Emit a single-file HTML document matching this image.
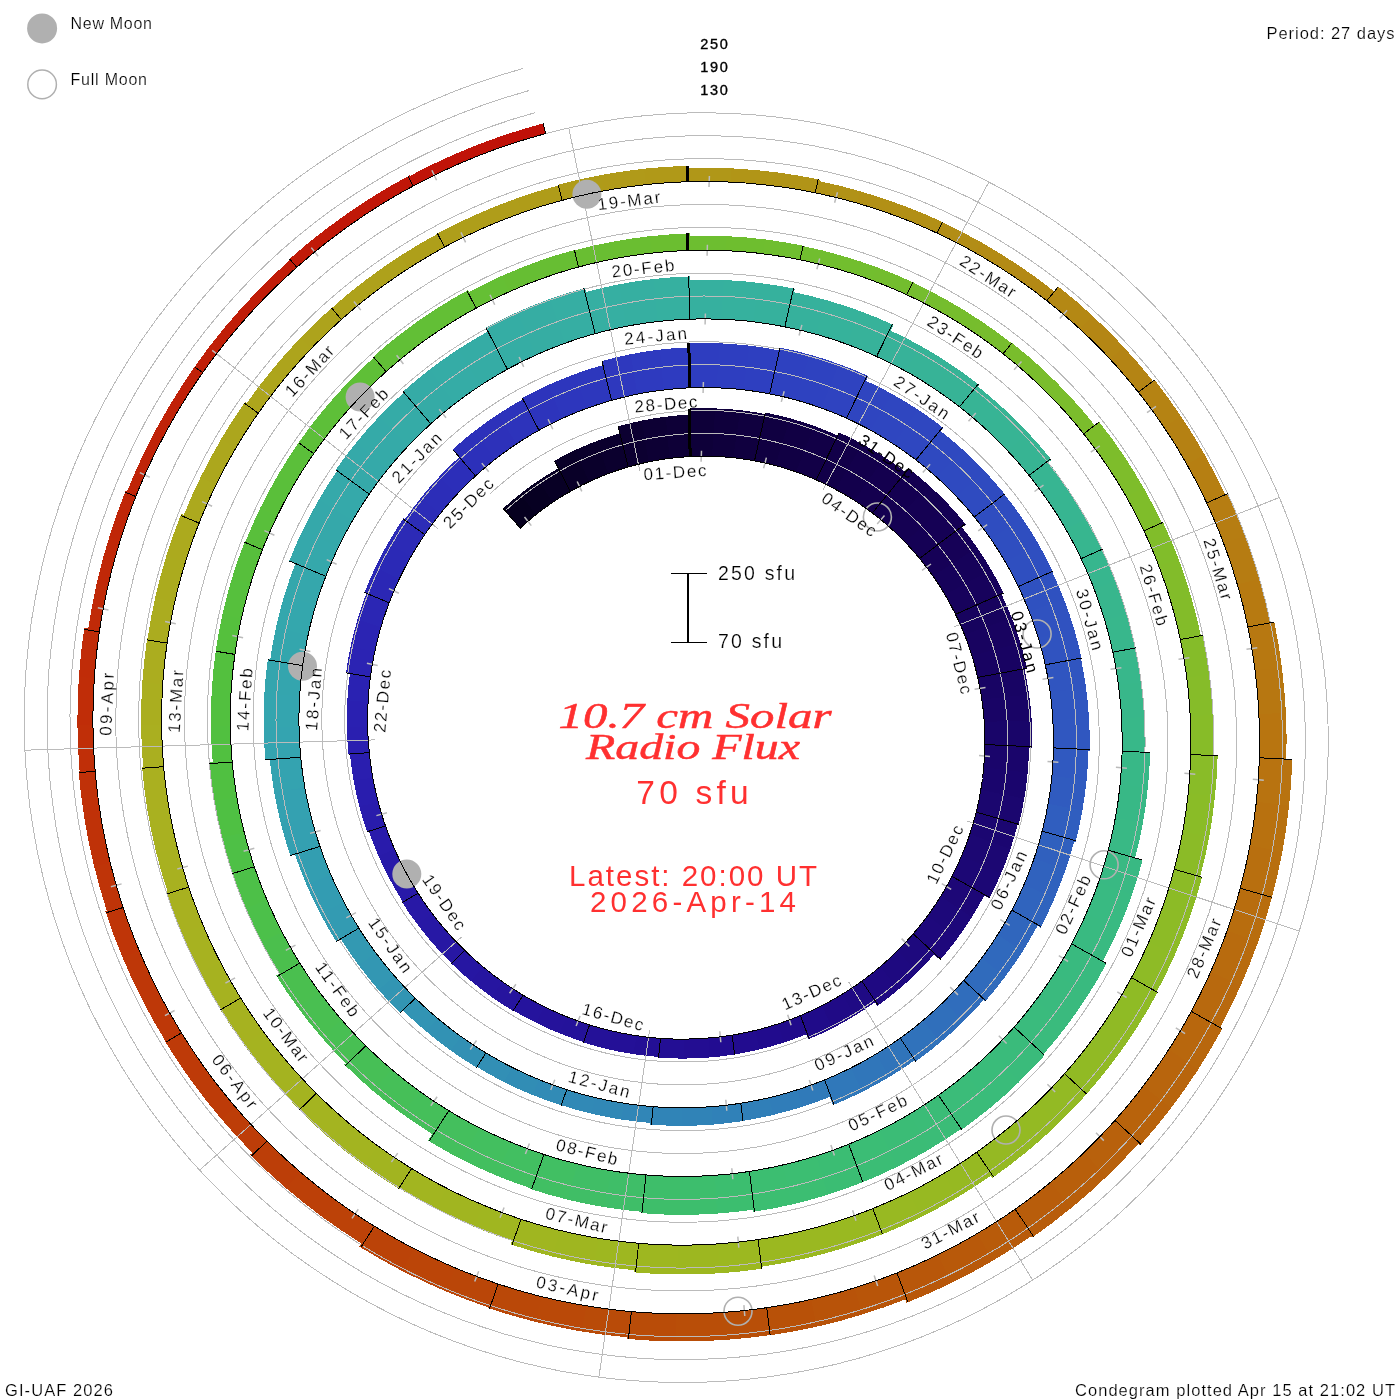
<!DOCTYPE html>
<html lang="en">
<head>
<meta charset="utf-8">
<title>10.7 cm Solar Radio Flux Condegram</title>
<style>
html,body{margin:0;padding:0;background:#fff;}
body{width:1400px;height:1400px;overflow:hidden;}
svg{display:block;}
</style>
</head>
<body>
<svg width="1400" height="1400" viewBox="0 0 1400 1400" role="img" aria-label="10.7 cm Solar Radio Flux condegram">
<rect width="1400" height="1400" fill="#fff"/>
<g shape-rendering="crispEdges" stroke="none">
<polygon fill="#06001f" points="520.2,528.2 528.1,521 536.4,514.2 521.2,493.2 512,500.6 503.2,508.4"/>
<polygon fill="#070022" points="535.9,514.7 544.4,508.2 553.2,502 539.6,479.8 529.9,486.6 520.5,493.7"/>
<polygon fill="#080025" points="552.6,502.4 561.7,496.5 571,491.1 559.1,467.9 548.9,473.9 538.9,480.3"/>
<polygon fill="#090028" points="570.3,491.4 579.8,486.3 589.6,481.5 576.3,449.6 565.2,454.9 554.5,460.7"/>
<polygon fill="#0a002b" points="588.9,481.8 598.8,477.4 608.9,473.4 598.1,440.5 586.7,445 575.5,449.9"/>
<polygon fill="#0b002e" points="608.2,473.7 618.5,470 628.9,466.8 620.7,433.2 608.9,436.8 597.3,440.8"/>
<polygon fill="#0c0031" points="628.2,467 638.7,464.2 649.4,461.8 642.6,420.4 630.3,423.1 618.1,426.3"/>
<polygon fill="#0d0034" points="648.6,461.9 659.4,459.9 670.3,458.3 666.7,416.6 654.2,418.3 641.7,420.6"/>
<polygon fill="#0e0037" points="669.5,458.4 680.4,457.2 691.4,456.5 691.1,414.6 678.4,415.4 665.8,416.7"/>
<polygon fill="#0e0039" points="690.7,456.5 701.7,456.2 712.7,456.3 716.1,408.4 703.1,408.2 690.2,408.5"/>
<polygon fill="#0f003c" points="712,456.3 723,456.8 734,457.8 741.1,410.3 728.2,409.1 715.2,408.4"/>
<polygon fill="#10003f" points="733.3,457.7 744.3,459.1 755.2,460.9 766,414.2 753.1,411.9 740.2,410.2"/>
<polygon fill="#100041" points="754.5,460.8 765.4,463 776.2,465.7 790.9,418.6 778.2,415.3 765.4,412.6"/>
<polygon fill="#110044" points="775.4,465.5 786.2,468.6 796.8,472.2 815.1,426.3 802.7,422.1 790.1,418.3"/>
<polygon fill="#120047" points="796,471.9 806.5,475.8 816.9,480.2 838.7,435.9 826.6,430.7 814.3,426"/>
<polygon fill="#120049" points="816.1,479.9 826.3,484.6 836.3,489.8 863.2,444.5 851.4,438.3 839.3,432.5"/>
<polygon fill="#13004c" points="835.6,489.4 845.4,494.9 855,500.9 885.4,457.8 874,450.7 862.4,444"/>
<polygon fill="#14004f" points="854.4,500.5 863.7,506.8 872.9,513.4 906.5,472.8 895.7,464.8 884.6,457.3"/>
<polygon fill="#140051" points="872.3,513 881.1,520 889.8,527.4 929.7,486 919.4,477.1 908.8,468.5"/>
<polygon fill="#150153" points="889.2,526.9 897.5,534.6 905.5,542.7 948.6,504.5 939,494.8 929,485.4"/>
<polygon fill="#150155" points="905,542.1 912.7,550.5 920.1,559.1 966,524.5 957.2,514 947.9,503.8"/>
<polygon fill="#160157" points="919.6,558.5 926.7,567.5 933.4,576.8 977.7,548.4 969.8,537.4 961.5,526.7"/>
<polygon fill="#16025a" points="933,576.1 939.4,585.6 945.4,595.4 991.7,570.6 984.7,559 977.2,547.6"/>
<polygon fill="#17025c" points="945,594.7 950.6,604.8 955.9,615 1004,593.8 997.9,581.7 991.3,569.8"/>
<polygon fill="#17035e" points="955.5,614.3 960.4,624.8 964.8,635.4 1012.2,618.8 1007.1,606.3 1001.4,594"/>
<polygon fill="#180360" points="964.5,634.7 968.6,645.5 972.2,656.5 1020.7,643.7 1016.5,630.7 1011.9,618"/>
<polygon fill="#180362" points="972,655.8 975.2,666.9 977.9,678.2 1027.3,669.1 1024.1,655.9 1020.4,642.8"/>
<polygon fill="#180464" points="977.7,677.4 980.1,688.8 982,700.3 1029.2,695.4 1027.1,682 1024.4,668.7"/>
<polygon fill="#190466" points="981.8,699.5 983.3,711.1 984.3,722.8 1031.8,721.5 1030.7,707.9 1029.1,694.5"/>
<polygon fill="#190569" points="984.2,721.9 984.8,733.6 984.9,745.4 1032.3,747.8 1032.3,734.2 1031.7,720.5"/>
<polygon fill="#1a056b" points="984.9,744.5 984.5,756.3 983.7,768 1027.6,773.7 1028.6,760.2 1029.1,746.7"/>
<polygon fill="#1a056d" points="983.7,767.2 982.5,778.9 980.7,790.6 1024.1,799.6 1026.2,786.2 1027.7,772.8"/>
<polygon fill="#1b066f" points="980.9,789.8 978.7,801.4 976,812.9 1018.5,825.3 1021.7,812 1024.2,798.7"/>
<polygon fill="#1b0671" points="976.2,812.1 973.1,823.5 969.6,834.8 1010.1,850.1 1014.2,837.2 1017.8,824.1"/>
<polygon fill="#1c0773" points="969.8,834.1 965.9,845.2 961.4,856.3 1000.6,874.7 1005.8,862.1 1010.4,849.2"/>
<polygon fill="#1c0775" points="961.7,855.5 956.9,866.4 951.6,877.1 989.3,898.5 995.4,886.3 1001,873.8"/>
<polygon fill="#1d0777" points="952,876.4 946.3,886.9 940.2,897.1 971.3,918.1 978.2,906.6 984.7,894.8"/>
<polygon fill="#1d087a" points="940.6,896.4 934.1,906.5 927.2,916.3 956.5,939.6 964.4,928.6 971.7,917.3"/>
<polygon fill="#1e087c" points="927.7,915.6 920.4,925.2 912.7,934.4 940.2,960 948.8,949.6 957.1,938.9"/>
<polygon fill="#1e097e" points="913.2,933.8 905.2,942.8 896.8,951.4 916.7,973 925.9,963.5 934.8,953.7"/>
<polygon fill="#1e0980" points="897.4,950.8 888.7,959.2 879.6,967.2 897.7,990.2 907.7,981.5 917.3,972.3"/>
<polygon fill="#1f0982" points="880.2,966.7 870.9,974.3 861.2,981.6 877.5,1006 888.1,998 898.4,989.6"/>
<polygon fill="#1f0a84" points="861.9,981.1 851.9,988.1 841.6,994.6 853.8,1016.3 864.9,1009.3 875.8,1001.8"/>
<polygon fill="#200a86" points="842.3,994.2 831.8,1000.3 821.1,1006.1 831.5,1028.7 843.2,1022.5 854.6,1015.8"/>
<polygon fill="#200b89" points="821.8,1005.7 810.8,1011 799.6,1015.9 808.3,1039.3 820.5,1034 832.4,1028.2"/>
<polygon fill="#210b8b" points="800.4,1015.6 789,1020.1 777.4,1024.1 782.8,1042.9 795.1,1038.6 807.3,1033.9"/>
<polygon fill="#210b8d" points="778.2,1023.9 766.5,1027.4 754.6,1030.6 758.5,1049.7 771.1,1046.4 783.7,1042.6"/>
<polygon fill="#220c8f" points="755.4,1030.4 743.4,1033.1 731.3,1035.3 733.7,1054.6 746.6,1052.3 759.4,1049.5"/>
<polygon fill="#220c91" points="732.1,1035.1 719.9,1036.9 707.6,1038.1 708.5,1057.6 721.6,1056.3 734.6,1054.5"/>
<polygon fill="#230d92" points="708.4,1038 696.1,1038.8 683.7,1039.1 683,1058.6 696.2,1058.3 709.4,1057.5"/>
<polygon fill="#230e94" points="684.5,1039.1 672.1,1039 659.7,1038.3 657.6,1057.7 670.8,1058.4 684,1058.6"/>
<polygon fill="#230f95" points="660.5,1038.4 648.1,1037.2 635.8,1035.6 632.3,1054 645.4,1055.7 658.6,1057"/>
<polygon fill="#241097" points="636.6,1035.7 624.3,1033.6 612.1,1031 607.2,1049.1 620.2,1051.9 633.2,1054.1"/>
<polygon fill="#241198" points="612.9,1031.2 600.8,1028.2 588.7,1024.6 582.5,1042.2 595.2,1046 608.1,1049.3"/>
<polygon fill="#24129a" points="589.6,1024.9 577.7,1020.9 565.9,1016.4 558.6,1032.9 571,1037.7 583.6,1042"/>
<polygon fill="#25129b" points="566.7,1016.7 555.1,1011.8 543.7,1006.4 535.1,1022.3 547.2,1028.1 559.4,1033.3"/>
<polygon fill="#25139d" points="544.5,1006.8 533.3,1001 522.4,994.7 512.5,1009.9 524.1,1016.6 535.9,1022.7"/>
<polygon fill="#26149e" points="523.1,995.1 512.4,988.5 501.9,981.3 490.5,996.2 501.6,1003.8 513,1010.9"/>
<polygon fill="#2615a0" points="502.6,981.8 492.4,974.3 482.5,966.4 470,980.3 480.5,988.7 491.3,996.7"/>
<polygon fill="#2616a2" points="483.1,966.9 473.5,958.6 464.2,949.9 450.7,962.8 460.5,972.1 470.7,980.9"/>
<polygon fill="#2717a3" points="464.8,950.5 455.9,941.4 447.2,932 433,943.7 442.1,953.7 451.6,963.3"/>
<polygon fill="#2718a5" points="447.8,932.7 439.5,922.9 431.7,912.8 416.6,923.3 424.9,934 433.6,944.4"/>
<polygon fill="#2818a6" points="432.2,913.5 424.7,903.1 417.6,892.4 401.7,901.7 409.2,913.1 417.1,924.1"/>
<polygon fill="#2819a8" points="418.1,893.2 411.4,882.2 405.1,870.9 389.4,878.6 396,890.5 403,902.1"/>
<polygon fill="#281aa9" points="405.5,871.7 399.7,860.2 394.3,848.5 378,854.9 383.7,867.3 389.8,879.4"/>
<polygon fill="#291bab" points="394.7,849.3 389.7,837.3 385.3,825.2 368.5,830.3 373.2,843.1 378.4,855.8"/>
<polygon fill="#291cac" points="385.5,826 381.5,813.7 378,801.2 359.1,805.5 362.8,818.7 367,831.8"/>
<polygon fill="#291dae" points="378.2,802.1 375.2,789.4 372.6,776.7 353.4,779.4 356.1,793 359.3,806.4"/>
<polygon fill="#2a1eaf" points="372.8,777.6 370.7,764.7 369.2,751.7 349.8,753 351.4,766.7 353.6,780.4"/>
<polygon fill="#2a1fb0" points="369.3,752.6 368.2,739.6 367.7,726.5 346.9,726.3 347.4,740.2 348.5,754.1"/>
<polygon fill="#2a20b1" points="367.7,727.4 367.6,714.3 368.1,701.2 347.4,699.4 346.9,713.3 346.9,727.3"/>
<polygon fill="#2a22b2" points="368.1,702.1 369,689 370.5,676 350,672.5 348.4,686.4 347.3,700.3"/>
<polygon fill="#2b23b3" points="370.4,676.9 372.4,663.9 374.9,650.9 350.9,644.9 348.2,658.8 346,672.8"/>
<polygon fill="#2b24b3" points="374.7,651.8 377.7,638.9 381.2,626.2 357.8,618.4 354,632.1 350.7,645.9"/>
<polygon fill="#2b26b4" points="381,627.1 384.9,614.5 389.5,602 366.7,592.4 361.8,605.8 357.5,619.3"/>
<polygon fill="#2b27b5" points="389.1,602.8 394.1,590.5 399.6,578.4 375.9,566.2 369.9,579.2 364.5,592.5"/>
<polygon fill="#2b29b6" points="399.2,579.3 405.1,567.4 411.5,555.7 388.8,541.6 381.9,554.2 375.4,567.1"/>
<polygon fill="#2c2ab6" points="411.1,556.5 417.9,545 425.2,533.9 403.7,518.1 395.8,530.1 388.3,542.5"/>
<polygon fill="#2c2cb7" points="424.7,534.6 432.4,523.7 440.6,513.1 421.7,496.8 412.9,508.2 404.5,519.9"/>
<polygon fill="#2c2db8" points="440.1,513.8 448.6,503.5 457.6,493.6 440,475.9 430.3,486.5 421.1,497.6"/>
<polygon fill="#2c2eb9" points="457,494.3 466.4,484.6 476.2,475.4 460,456.3 449.4,466.3 439.3,476.6"/>
<polygon fill="#2c30ba" points="475.5,476 485.6,467.1 496.1,458.6 475.5,430.3 463.9,439.6 452.7,449.4"/>
<polygon fill="#2d31ba" points="495.3,459.2 506.2,451.1 517.3,443.4 499,413.6 486.7,422 474.7,430.9"/>
<polygon fill="#2d33bb" points="516.5,443.9 528,436.7 539.7,429.9 523.8,398.7 510.8,406.2 498.1,414.2"/>
<polygon fill="#2d34bc" points="538.9,430.3 550.9,424 563.1,418.1 549.2,384.6 535.6,391.1 522.3,398.1"/>
<polygon fill="#2d36bd" points="562.3,418.5 574.8,413.1 587.5,408.1 576.1,373.6 562,379.1 548.2,385"/>
<polygon fill="#2d37bd" points="586.6,408.5 599.5,404 612.6,400.1 603.9,364.8 589.4,369.1 575.1,374"/>
<polygon fill="#2e38be" points="611.6,400.3 624.9,396.9 638.3,394 631.7,354 616.7,357.2 601.9,361"/>
<polygon fill="#2e3abf" points="637.3,394.1 650.8,391.7 664.4,389.9 661,349.5 645.8,351.5 630.7,354.2"/>
<polygon fill="#2e3bc0" points="663.5,390 677.2,388.6 690.9,387.8 690.6,347.3 675.3,348.1 660,349.6"/>
<polygon fill="#2e3dc0" points="690,387.8 703.7,387.5 717.5,387.8 720.7,343.4 705.1,343 689.5,343.3"/>
<polygon fill="#2e3ec0" points="716.6,387.7 730.4,388.5 744.2,389.8 750.7,345.8 735.2,344.3 719.6,343.3"/>
<polygon fill="#2e3fc0" points="743.2,389.7 756.9,391.6 770.6,394 780.5,350.6 765.1,347.8 749.6,345.7"/>
<polygon fill="#2e41c0" points="769.6,393.8 783.2,396.7 796.7,400.2 810.8,354.9 795.5,350.9 780.1,347.6"/>
<polygon fill="#2e42c0" points="795.8,399.9 809.1,403.9 822.3,408.4 839.9,364.4 824.9,359.2 809.8,354.6"/>
<polygon fill="#2f43c0" points="821.4,408 834.4,413 847.2,418.6 868.2,376.1 853.7,369.7 838.9,364"/>
<polygon fill="#2f45c0" points="846.4,418.2 859,424.2 871.4,430.7 892.9,394.4 879.1,387.1 864.9,380.3"/>
<polygon fill="#2f46c0" points="870.5,430.2 882.7,437.2 894.6,444.7 918.9,410.2 905.6,401.8 892,393.9"/>
<polygon fill="#2f47c0" points="893.8,444.2 905.4,452.1 916.7,460.5 943.5,428 930.9,418.5 918,409.6"/>
<polygon fill="#2f49c0" points="915.9,459.9 926.9,468.7 937.5,478 963.9,450.7 952.2,440.4 940,430.5"/>
<polygon fill="#2f4ac0" points="936.8,477.3 947.1,487 957,497.1 985.4,471.9 974.5,460.7 963.1,449.9"/>
<polygon fill="#2f4bc0" points="956.3,496.4 965.8,506.9 974.9,517.7 1005.3,494.8 995.2,482.8 984.7,471.1"/>
<polygon fill="#2f4dc0" points="974.3,517 983,528.2 991.3,539.7 1023,519.4 1013.9,506.6 1004.3,494.1"/>
<polygon fill="#2f4ec0" points="990.7,538.9 998.6,550.8 1005.9,563 1039.2,545.2 1031.1,531.7 1022.4,518.5"/>
<polygon fill="#2f4fc0" points="1005.4,562.1 1012.3,574.6 1018.7,587.4 1053.3,572.2 1046.2,558 1038.6,544.2"/>
<polygon fill="#2f51c0" points="1018.3,586.5 1024.3,599.5 1029.7,612.7 1064.5,600.5 1058.6,585.9 1052.1,571.5"/>
<polygon fill="#3052c0" points="1029.3,611.8 1034.2,625.3 1038.6,638.9 1074.3,629.5 1069.5,614.4 1064.1,599.5"/>
<polygon fill="#3053c0" points="1038.3,638 1042.2,651.8 1045.5,665.8 1081.8,659.1 1078.2,643.7 1074,628.4"/>
<polygon fill="#3055c0" points="1045.3,664.8 1048.1,678.9 1050.3,693.2 1086.3,689.4 1083.9,673.7 1080.9,658.2"/>
<polygon fill="#3056c0" points="1050.2,692.2 1051.8,706.5 1053,720.9 1089.1,720 1088,704.1 1086.1,688.3"/>
<polygon fill="#3057c0" points="1052.9,719.9 1053.5,734.4 1053.5,748.9 1089.6,750.7 1089.7,734.8 1089.1,718.9"/>
<polygon fill="#3059c0" points="1053.5,747.9 1052.9,762.3 1051.8,776.8 1086.5,781.3 1087.8,765.4 1088.4,749.5"/>
<polygon fill="#305bbf" points="1051.9,775.8 1050.2,790.2 1048,804.6 1082.2,811.8 1084.7,796 1086.6,780.2"/>
<polygon fill="#305ebf" points="1048.1,803.6 1045.3,817.9 1042,832.1 1075.6,841.9 1079.3,826.4 1082.4,810.7"/>
<polygon fill="#3060be" points="1042.2,831.1 1038.3,845.2 1033.8,859.1 1065.2,871 1070.1,855.8 1074.4,840.4"/>
<polygon fill="#3062be" points="1034.2,858.2 1029.2,871.9 1023.6,885.5 1053.9,899.7 1060,884.9 1065.5,869.9"/>
<polygon fill="#3064be" points="1024,884.5 1018,897.9 1011.3,911 1040.5,927.6 1047.7,913.3 1054.4,898.7"/>
<polygon fill="#3066bd" points="1011.8,910.1 1004.7,923 997.1,935.6 1022,952.4 1030.2,938.8 1038,924.9"/>
<polygon fill="#3069bd" points="997.7,934.7 989.6,947 981,959 1004.5,977.7 1013.8,964.7 1022.6,951.4"/>
<polygon fill="#306bbc" points="981.6,958.2 972.5,969.9 963,981.2 985,1001.6 995.3,989.4 1005.1,976.8"/>
<polygon fill="#306dbc" points="963.7,980.4 953.7,991.4 943.3,1002 962.3,1022.6 973.5,1011.2 984.2,999.4"/>
<polygon fill="#306fbb" points="944.1,1001.3 933.3,1011.4 922.1,1021.2 939.4,1043.2 951.5,1032.7 963.1,1021.8"/>
<polygon fill="#3072bb" points="922.9,1020.5 911.3,1029.9 899.3,1038.7 914.9,1062 927.8,1052.5 940.2,1042.5"/>
<polygon fill="#3074ba" points="900.2,1038.1 887.9,1046.6 875.3,1054.5 888.2,1077.6 901.8,1069.1 915,1060.1"/>
<polygon fill="#3076ba" points="876.1,1054 863.2,1061.5 850,1068.4 861.1,1092.4 875.3,1085 889.2,1077.1"/>
<polygon fill="#3078ba" points="850.9,1067.9 837.4,1074.4 823.6,1080.3 832.8,1105.1 847.6,1098.8 862.1,1091.9"/>
<polygon fill="#307ab9" points="824.6,1079.9 810.6,1085.3 796.3,1090.2 801.2,1107.2 816.1,1102.1 830.8,1096.5"/>
<polygon fill="#307db9" points="797.3,1089.8 782.9,1094.2 768.3,1097.9 771.9,1115.2 787.1,1111.3 802.2,1106.9"/>
<polygon fill="#307fb8" points="769.3,1097.7 754.6,1100.8 739.7,1103.4 741.9,1121 757.5,1118.3 772.9,1115"/>
<polygon fill="#3081b8" points="740.8,1103.3 725.8,1105.3 710.7,1106.7 711.6,1124.7 727.3,1123.2 743,1121.1"/>
<polygon fill="#3083b7" points="711.8,1106.7 696.7,1107.5 681.5,1107.8 680.9,1125.8 696.8,1125.5 712.7,1124.6"/>
<polygon fill="#3084b7" points="682.5,1107.8 667.4,1107.5 652.2,1106.6 650.2,1124.5 666.1,1125.5 682,1125.8"/>
<polygon fill="#3186b7" points="653.2,1106.7 638.1,1105.2 623,1103.1 620,1119.3 635.7,1121.5 651.5,1123.1"/>
<polygon fill="#3188b6" points="624.1,1103.3 609,1100.6 594.1,1097.3 589.8,1113.3 605.4,1116.7 621,1119.5"/>
<polygon fill="#3189b6" points="595.2,1097.6 580.4,1093.8 565.7,1089.3 560.2,1104.9 575.5,1109.5 590.9,1113.5"/>
<polygon fill="#318bb6" points="566.7,1089.7 552.2,1084.7 537.9,1079.2 531.1,1094.4 546.1,1100.2 561.2,1105.4"/>
<polygon fill="#318db5" points="538.9,1079.6 524.8,1073.5 511,1066.8 503,1081.5 517.5,1088.5 532.2,1094.8"/>
<polygon fill="#328fb5" points="511.9,1067.3 498.3,1060.1 485,1052.4 475.9,1066.4 489.8,1074.5 504,1082"/>
<polygon fill="#3290b4" points="485.9,1052.9 472.9,1044.7 460.2,1035.9 449.6,1049.8 462.9,1058.9 476.5,1067.6"/>
<polygon fill="#3292b4" points="461.1,1036.6 448.7,1027.3 436.7,1017.6 425.1,1030.5 437.6,1040.7 450.5,1050.4"/>
<polygon fill="#3294b4" points="437.5,1018.3 425.8,1008.1 414.6,997.4 402,1009.4 413.7,1020.6 425.9,1031.3"/>
<polygon fill="#3295b3" points="415.3,998.2 404.5,987.1 394.1,975.5 377.7,989 388.6,1001.1 400.1,1012.9"/>
<polygon fill="#3397b3" points="394.8,976.3 384.8,964.4 375.3,952.1 357.9,964.2 367.9,977.2 378.4,989.8"/>
<polygon fill="#3399b2" points="375.9,952.9 366.9,940.2 358.3,927.2 340.1,937.9 349,951.7 358.6,965.1"/>
<polygon fill="#339bb2" points="358.9,928.1 350.9,914.7 343.3,901 319.7,912.5 327.7,927.2 336.3,941.5"/>
<polygon fill="#339cb2" points="343.9,902 336.8,888 330.4,873.7 305.9,883.3 312.8,898.6 320.2,913.5"/>
<polygon fill="#339eb1" points="330.8,874.7 324.9,860.1 319.6,845.4 294.4,853.1 300.1,868.9 306.4,884.4"/>
<polygon fill="#34a0b1" points="319.9,846.4 315.2,831.4 311,816.2 280.7,823 285.2,839.4 290.3,855.6"/>
<polygon fill="#34a1b1" points="311.2,817.3 307.6,802 304.6,786.5 274,790.9 277.2,807.6 281,824.2"/>
<polygon fill="#34a3b0" points="304.8,787.5 302.4,771.9 300.6,756.2 269.7,758.3 271.6,775.2 274.2,792"/>
<polygon fill="#34a4b0" points="300.7,757.3 299.5,741.5 299,725.7 263.6,725.3 264.1,742.5 265.4,759.7"/>
<polygon fill="#34a5af" points="299,726.8 299,710.9 299.7,695.1 264.4,691.9 263.7,709.2 263.6,726.5"/>
<polygon fill="#34a5ae" points="299.6,696.2 300.9,680.3 302.8,664.5 267.9,658.6 265.8,675.8 264.4,693.1"/>
<polygon fill="#34a6ad" points="302.6,665.6 305.1,649.9 308.2,634.3 276.2,626.3 272.8,643.2 270.1,660.2"/>
<polygon fill="#34a7ad" points="308,635.3 311.7,619.8 316.1,604.4 284.8,594 280,610.6 276,627.4"/>
<polygon fill="#35a7ac" points="315.7,605.5 320.6,590.3 326.2,575.2 295.8,562.4 289.8,578.6 284.4,595.1"/>
<polygon fill="#35a8ab" points="325.8,576.3 331.9,561.4 338.6,546.9 303.4,528.7 296,544.7 289.3,561"/>
<polygon fill="#35a8aa" points="338.1,547.9 345.3,533.5 353.1,519.5 319.5,498.6 310.9,514 302.9,529.8"/>
<polygon fill="#35a9aa" points="352.6,520.4 360.9,506.7 369.8,493.2 337.9,469.8 328.1,484.5 318.9,499.6"/>
<polygon fill="#35a9a9" points="369.2,494.1 378.6,481 388.5,468.3 357.2,441.4 346.2,455.4 335.8,469.8"/>
<polygon fill="#35aaa8" points="387.8,469.2 398.3,456.8 409.2,444.9 380.1,415.6 368,428.7 356.5,442.3"/>
<polygon fill="#35aba7" points="408.4,445.7 419.8,434.2 431.6,423.1 404.8,391.6 391.8,403.8 379.2,416.5"/>
<polygon fill="#35aba6" points="430.8,423.8 443,413.2 455.7,403 430.8,368.6 416.7,379.8 403.1,391.5"/>
<polygon fill="#35aca6" points="454.8,403.7 467.9,394 481.4,384.9 459.2,348.6 444.3,358.7 429.8,369.4"/>
<polygon fill="#35aca5" points="480.4,385.5 494.3,376.8 508.4,368.7 489.1,330.9 473.4,339.8 458.1,349.3"/>
<polygon fill="#35ada4" points="507.4,369.3 521.9,361.7 536.7,354.7 518.7,311.5 502.2,319.2 486,327.7"/>
<polygon fill="#36ada3" points="535.6,355.2 550.7,348.7 566,342.9 551.4,298.4 534.3,304.9 517.5,312"/>
<polygon fill="#36aea3" points="564.9,343.3 580.5,338 596.2,333.3 585.1,287.9 567.5,293 550.2,298.8"/>
<polygon fill="#36afa2" points="595.1,333.6 611.1,329.6 627.2,326.2 620.3,284 602.5,287.8 584.9,292.2"/>
<polygon fill="#36afa1" points="626,326.4 642.3,323.6 658.6,321.4 655,278.9 637,281.2 619,284.3"/>
<polygon fill="#36b0a0" points="657.5,321.5 673.9,320 690.4,319.1 690.1,276.4 671.9,277.3 653.8,279"/>
<polygon fill="#36b09f" points="689.3,319.1 705.8,318.9 722.4,319.3 725.1,280 707,279.6 688.9,279.8"/>
<polygon fill="#36b19e" points="721.2,319.2 737.8,320.2 754.3,321.9 760.1,283 742,281.1 723.9,280"/>
<polygon fill="#36b19d" points="753.1,321.8 769.6,324.1 786,327 794.7,288.7 776.8,285.4 758.8,282.9"/>
<polygon fill="#36b19c" points="784.8,326.8 801.1,330.4 817.2,334.6 827.9,300.5 810.4,295.9 792.7,292"/>
<polygon fill="#36b29b" points="816.1,334.3 832,339.1 847.8,344.6 861.1,311.4 844,305.5 826.6,300.2"/>
<polygon fill="#37b29a" points="846.7,344.2 862.3,350.3 877.6,357 893.4,324.9 876.8,317.6 859.9,311"/>
<polygon fill="#37b299" points="876.6,356.5 891.7,363.7 906.5,371.6 921.5,346.3 905.6,337.9 889.5,330.1"/>
<polygon fill="#37b397" points="905.4,371.1 919.9,379.5 934.1,388.5 951,364.5 935.9,354.8 920.4,345.7"/>
<polygon fill="#37b396" points="933.1,387.9 947,397.4 960.4,407.5 979.2,384.9 964.8,374 950,363.8"/>
<polygon fill="#37b495" points="959.5,406.8 972.6,417.5 985.2,428.6 1004.2,409 990.8,397.1 976.9,385.7"/>
<polygon fill="#37b494" points="984.4,427.8 996.6,439.4 1008.4,451.6 1028.8,433.5 1016.3,420.5 1003.3,408.1"/>
<polygon fill="#37b493" points="1007.6,450.7 1018.9,463.3 1029.7,476.3 1051.5,459.8 1040,446 1028,432.6"/>
<polygon fill="#37b592" points="1029,475.4 1039.3,488.8 1049.1,502.7 1068.9,490 1058.6,475.4 1047.7,461.2"/>
<polygon fill="#37b591" points="1048.5,501.7 1057.8,515.9 1066.5,530.5 1087.2,519.4 1078,504 1068.2,489"/>
<polygon fill="#37b68f" points="1065.9,529.5 1074.1,544.4 1081.6,559.7 1103.1,550.2 1095.2,534.1 1086.6,518.3"/>
<polygon fill="#37b68e" points="1081.1,558.6 1088.1,574.2 1094.5,590 1115.7,582.6 1109,565.9 1101.7,549.5"/>
<polygon fill="#38b68d" points="1094.1,588.9 1099.9,605 1105,621.3 1126.7,615.5 1121.4,598.3 1115.3,581.4"/>
<polygon fill="#38b78c" points="1104.7,620.2 1109.2,636.7 1113.1,653.4 1135.2,649.3 1131.1,631.7 1126.4,614.3"/>
<polygon fill="#38b78b" points="1112.8,652.2 1116.1,669.1 1118.6,686 1141.8,683.6 1139.1,665.7 1135.7,647.9"/>
<polygon fill="#38b78a" points="1118.5,684.9 1120.4,701.9 1121.6,719.1 1144.9,718.5 1143.6,700.4 1141.6,682.4"/>
<polygon fill="#38b889" points="1121.6,717.9 1122.2,735.1 1122.1,752.4 1145.3,753.5 1145.5,735.4 1144.9,717.2"/>
<polygon fill="#38b887" points="1122.1,751.2 1121.4,768.4 1119.9,785.6 1147.7,789.2 1149.3,770.9 1150.1,752.5"/>
<polygon fill="#38b886" points="1120.1,784.4 1118,801.6 1115.2,818.7 1142.6,824.4 1145.6,806.2 1147.8,787.9"/>
<polygon fill="#39b985" points="1115.4,817.5 1112,834.5 1107.9,851.3 1134.8,859.2 1139.2,841.2 1142.8,823.2"/>
<polygon fill="#39b983" points="1108.2,850.2 1103.5,866.9 1098.1,883.4 1131.6,896.1 1137.5,878.2 1142.6,860.1"/>
<polygon fill="#39ba82" points="1098.5,882.3 1092.5,898.6 1085.8,914.7 1118.2,929.9 1125.5,912.5 1132,894.8"/>
<polygon fill="#39ba81" points="1086.3,913.6 1079,929.4 1071.1,944.9 1102.2,962.6 1110.8,945.8 1118.7,928.7"/>
<polygon fill="#39ba7f" points="1071.7,943.9 1063.2,959.1 1054,974 1087.2,996.4 1097.2,980.2 1106.5,963.5"/>
<polygon fill="#3aba7e" points="1054.7,973 1045,987.6 1034.7,1001.8 1066.1,1026.7 1077.3,1011.2 1087.9,995.3"/>
<polygon fill="#3abb7d" points="1035.5,1000.8 1024.7,1014.6 1013.3,1028 1042.6,1055.2 1055,1040.7 1066.9,1025.6"/>
<polygon fill="#3abb7b" points="1014.1,1027.1 1002.3,1040 989.9,1052.5 1018,1083 1031.6,1069.4 1044.6,1055.3"/>
<polygon fill="#3abc7a" points="990.8,1051.7 977.9,1063.7 964.6,1075.2 990.2,1107.8 1004.9,1095.2 1019,1082.1"/>
<polygon fill="#3bbc79" points="965.5,1074.4 951.7,1085.4 937.5,1095.9 960.6,1130.4 976.1,1119 991.3,1106.9"/>
<polygon fill="#3bbc77" points="938.5,1095.2 923.9,1105.1 908.9,1114.4 928.7,1149.7 945.1,1139.6 961.1,1128.8"/>
<polygon fill="#3bbc76" points="909.9,1113.8 894.6,1122.6 878.8,1130.7 895.9,1167.5 913,1158.6 929.9,1149.1"/>
<polygon fill="#3bbd75" points="879.9,1130.2 863.9,1137.8 847.6,1144.7 861.7,1182.7 879.5,1175.1 897.1,1166.9"/>
<polygon fill="#3bbd73" points="848.7,1144.2 832.1,1150.6 815.2,1156.2 826.4,1195.2 844.8,1189 862.9,1182.2"/>
<polygon fill="#3cbe72" points="816.4,1155.8 799.3,1160.9 782,1165.2 790.1,1204.9 809,1200.2 827.7,1194.7"/>
<polygon fill="#3cbe71" points="783.2,1164.9 765.8,1168.6 748.2,1171.6 753.2,1211.8 772.4,1208.6 791.5,1204.6"/>
<polygon fill="#3cbe6f" points="749.4,1171.4 731.7,1173.8 713.9,1175.4 715.6,1213.7 735,1212 754.3,1209.5"/>
<polygon fill="#3dbe6d" points="715.1,1175.3 697.2,1176.2 679.3,1176.5 678.1,1214.9 697.6,1214.6 717,1213.6"/>
<polygon fill="#3ebe6a" points="680.6,1176.5 662.6,1176 644.7,1174.9 640.5,1213.1 660,1214.4 679.5,1214.9"/>
<polygon fill="#3fbe68" points="646,1175 628.1,1173.2 610.3,1170.6 603.4,1207 622.7,1209.8 642,1211.8"/>
<polygon fill="#40be66" points="611.5,1170.8 593.8,1167.6 576.2,1163.7 566.5,1199.4 585.6,1203.7 604.7,1207.2"/>
<polygon fill="#41bf63" points="577.4,1164 560,1159.4 542.7,1154.1 530.3,1188.9 549,1194.7 567.8,1199.7"/>
<polygon fill="#42bf61" points="543.9,1154.5 526.8,1148.5 510,1141.9 495.2,1175.1 513.4,1182.2 531.8,1188.7"/>
<polygon fill="#43bf5f" points="511.1,1142.4 494.5,1135.1 478.2,1127.2 460.9,1159.1 478.5,1167.7 496.4,1175.6"/>
<polygon fill="#44bf5d" points="479.4,1127.8 463.4,1119.2 447.7,1110 428,1140.5 444.9,1150.5 462.1,1159.7"/>
<polygon fill="#45bf5a" points="448.8,1110.7 433.4,1100.9 418.5,1090.5 401.2,1113.2 417.1,1124.2 433.3,1134.7"/>
<polygon fill="#46bf58" points="419.5,1091.3 405,1080.3 390.9,1068.8 371.9,1090 386.8,1102.3 402.3,1114"/>
<polygon fill="#47bf56" points="391.8,1069.6 378.1,1057.5 364.9,1044.9 344.4,1064.6 358.4,1078 372.9,1090.9"/>
<polygon fill="#48bf53" points="365.8,1045.8 353.1,1032.7 340.9,1019 320.3,1035.9 333.2,1050.3 346.7,1064.2"/>
<polygon fill="#49bf51" points="341.7,1020 330,1005.9 318.9,991.3 297.1,1006.5 308.8,1022 321.2,1036.9"/>
<polygon fill="#4abf4f" points="319.7,992.4 309.1,977.4 299.1,962 276.2,975.4 286.7,991.8 297.9,1007.6"/>
<polygon fill="#4bbf4d" points="299.8,963.1 290.4,947.3 281.6,931.1 260.9,941.2 270.1,958.2 280,974.7"/>
<polygon fill="#4cc04a" points="282.2,932.2 274,915.7 266.5,898.9 245.1,907.3 253,925 261.5,942.4"/>
<polygon fill="#4dc048" points="267,900.1 260.1,882.9 253.9,865.5 231.9,872.3 238.4,890.6 245.6,908.6"/>
<polygon fill="#4ec046" points="254.3,866.8 248.8,849.1 243.9,831.3 221.5,836.3 226.6,855.1 232.4,873.6"/>
<polygon fill="#4fc043" points="244.3,832.5 240.1,814.5 236.6,796.3 213.9,799.5 217.5,818.7 221.8,837.6"/>
<polygon fill="#50c041" points="236.9,797.5 234.1,779.2 232.1,760.7 209.1,762.2 211.2,781.6 214.1,800.9"/>
<polygon fill="#51c040" points="232.2,762 230.9,743.5 230.3,724.9 210.9,724.6 211.5,744 212.8,763.3"/>
<polygon fill="#52c03f" points="230.3,726.2 230.4,707.5 231.3,688.9 211.9,687.2 211,706.6 210.9,726"/>
<polygon fill="#53c03e" points="231.2,690.2 232.7,671.6 235,653.1 215.9,649.9 213.5,669.2 211.9,688.5"/>
<polygon fill="#55c03d" points="234.9,654.4 237.9,635.9 241.6,617.6 222.8,612.9 218.9,632 215.7,651.2"/>
<polygon fill="#56c03d" points="241.3,618.9 245.7,600.7 250.9,582.7 232.5,576.5 227.1,595.3 222.5,614.2"/>
<polygon fill="#57bf3c" points="250.5,583.9 256.3,566.1 262.9,548.5 245,540.9 238.2,559.2 232.1,577.8"/>
<polygon fill="#59bf3b" points="262.4,549.7 269.6,532.3 277.5,515.3 260.9,506.7 252.7,524.4 245.2,542.5"/>
<polygon fill="#5abf3a" points="277,516.5 285.5,499.7 294.8,483.3 278.9,473.4 269.3,490.5 260.3,507.9"/>
<polygon fill="#5bbf3a" points="294.1,484.4 303.9,468.3 314.4,452.6 299.3,441.5 288.4,457.9 278.2,474.6"/>
<polygon fill="#5dbf39" points="313.7,453.7 324.8,438.4 336.5,423.5 322.3,411.3 310.1,426.8 298.6,442.7"/>
<polygon fill="#5ebf38" points="335.6,424.5 347.9,410.1 360.7,396.2 347.5,382.9 334.2,397.4 321.4,412.4"/>
<polygon fill="#5fbf37" points="359.8,397.1 373.2,383.7 387.1,370.8 375,356.5 360.5,369.9 346.6,383.9"/>
<polygon fill="#61bf36" points="386.1,371.6 400.5,359.2 415.4,347.4 403.8,331.5 388.3,343.8 373.3,356.7"/>
<polygon fill="#62bf36" points="414.3,348.2 429.7,337 445.5,326.3 435.2,309.5 418.7,320.6 402.7,332.3"/>
<polygon fill="#63bf35" points="444.4,327 460.5,317 477.1,307.5 468.2,290 450.9,299.8 434,310.3"/>
<polygon fill="#65bf34" points="476,308.2 492.9,299.4 510.2,291.3 503.5,275.1 485.6,283.5 468,292.6"/>
<polygon fill="#66be33" points="509,291.8 526.6,284.4 544.6,277.6 539.1,261 520.5,268 502.2,275.7"/>
<polygon fill="#67be33" points="543.3,278 561.5,272 579.9,266.6 575.7,249.6 556.6,255.1 537.8,261.4"/>
<polygon fill="#69be32" points="578.6,267 597.2,262.3 616.1,258.4 613.3,241.6 593.8,245.6 574.5,250.5"/>
<polygon fill="#6abe31" points="614.7,258.6 633.7,255.4 652.8,252.9 651.4,236 631.6,238.5 612,241.8"/>
<polygon fill="#6bbe30" points="651.5,253.1 670.7,251.4 689.9,250.4 689.8,233.4 669.9,234.4 650,236.2"/>
<polygon fill="#6dbe30" points="688.6,250.4 707.9,250.2 727.2,250.7 728.2,236.3 708.3,235.7 688.4,235.9"/>
<polygon fill="#6ebe2f" points="725.9,250.7 745.2,251.9 764.4,253.9 766.5,239.6 746.7,237.5 726.8,236.2"/>
<polygon fill="#6fbe2f" points="763.1,253.8 782.2,256.5 801.3,260.1 804.6,245.9 784.9,242.3 765.2,239.4"/>
<polygon fill="#71be2f" points="800,259.8 818.9,264 837.7,269 841.9,255.7 822.6,250.5 803.1,246.1"/>
<polygon fill="#72be2e" points="836.4,268.6 855,274.4 873.3,280.8 878.5,267.8 859.7,261.2 840.5,255.3"/>
<polygon fill="#73bd2e" points="872.1,280.3 890.2,287.5 908,295.3 914.2,282.8 895.9,274.7 877.2,267.3"/>
<polygon fill="#75bd2e" points="906.8,294.8 924.3,303.3 941.5,312.5 948.4,300.9 930.8,291.4 912.7,282.6"/>
<polygon fill="#76bd2d" points="940.3,311.9 957.2,321.8 973.7,332.3 981.4,321.3 964.5,310.4 947.2,300.3"/>
<polygon fill="#77bd2d" points="972.5,331.6 988.6,342.8 1004.2,354.6 1012.8,344.2 996.8,332 980.3,320.5"/>
<polygon fill="#79bd2c" points="1003.1,353.8 1018.3,366.2 1033,379.2 1042.7,369.1 1027.6,355.7 1012,342.9"/>
<polygon fill="#7abd2c" points="1032,378.3 1046.2,391.9 1059.8,406 1070.3,396.7 1056.3,382.2 1041.7,368.2"/>
<polygon fill="#7bbd2c" points="1058.9,405 1072,419.7 1084.6,434.9 1095.7,426.4 1082.8,410.8 1069.4,395.7"/>
<polygon fill="#7dbd2b" points="1083.7,433.8 1095.7,449.5 1107,465.6 1123.4,455.1 1111.7,438.3 1099.2,422"/>
<polygon fill="#7ebd2b" points="1106.2,464.5 1117,481.1 1127,498.1 1144.2,488.9 1133.8,471.2 1122.6,453.9"/>
<polygon fill="#7fbd2a" points="1126.4,496.9 1135.8,514.3 1144.5,532 1162.4,524.2 1153.3,505.7 1143.5,487.6"/>
<polygon fill="#81bd2a" points="1143.9,530.8 1152,548.9 1159.3,567.3 1179.1,560.4 1171.4,541.2 1163,522.3"/>
<polygon fill="#82bc2a" points="1158.9,566 1165.5,584.7 1171.4,603.7 1191.6,598.3 1185.5,578.5 1178.6,559.1"/>
<polygon fill="#83bc29" points="1171,602.4 1176.2,621.6 1180.6,641 1201.2,637.2 1196.6,617 1191.2,596.9"/>
<polygon fill="#85bc29" points="1180.3,639.6 1184,659.2 1186.9,678.9 1210,676.5 1207,655.8 1203.2,635.3"/>
<polygon fill="#86bc29" points="1186.8,677.5 1188.9,697.3 1190.3,717.3 1213.5,716.7 1212.1,695.8 1209.8,675"/>
<polygon fill="#87bc28" points="1190.2,715.9 1190.9,735.9 1190.7,755.9 1213.9,757 1214.1,736.1 1213.4,715.2"/>
<polygon fill="#89bc28" points="1190.7,754.5 1189.8,774.5 1188.1,794.4 1214.8,797.9 1216.7,776.8 1217.7,755.8"/>
<polygon fill="#8abc27" points="1188.2,793 1185.7,812.9 1182.5,832.7 1208.9,838.3 1212.4,817.4 1215,796.4"/>
<polygon fill="#8bbb27" points="1182.7,831.4 1178.7,851.1 1173.9,870.6 1199.8,878.1 1204.9,857.6 1209.2,836.8"/>
<polygon fill="#8cbb26" points="1174.2,869.2 1168.7,888.6 1162.4,907.7 1189.5,917.9 1196.2,897.7 1202.1,877.3"/>
<polygon fill="#8dbb26" points="1162.8,906.4 1155.8,925.2 1148,943.9 1174.3,956.2 1182.5,936.5 1190,916.5"/>
<polygon fill="#8ebb26" points="1148.6,942.6 1140.1,960.9 1130.8,978.9 1156.1,993.2 1165.8,974.2 1174.9,954.8"/>
<polygon fill="#8fbb25" points="1131.5,977.6 1121.6,995.2 1111,1012.5 1135.8,1029.3 1147.1,1011 1157.6,992.4"/>
<polygon fill="#90ba25" points="1111.7,1011.3 1100.5,1028.1 1088.5,1044.5 1112,1063.2 1124.7,1045.8 1136.6,1028"/>
<polygon fill="#91ba24" points="1089.4,1043.4 1076.8,1059.3 1063.6,1074.8 1085.6,1095.2 1099.6,1078.9 1112.9,1062"/>
<polygon fill="#93ba24" points="1064.6,1073.7 1050.8,1088.7 1036.4,1103.1 1056.7,1125.1 1072,1109.9 1086.6,1094.1"/>
<polygon fill="#94ba23" points="1037.4,1102.1 1022.5,1115.9 1007,1129.2 1025.6,1152.8 1042,1138.7 1057.8,1124.1"/>
<polygon fill="#95b923" points="1008.1,1128.3 992.2,1141 975.7,1153 992.3,1177.9 1009.8,1165.2 1026.7,1151.8"/>
<polygon fill="#96b922" points="976.8,1152.2 959.9,1163.6 942.5,1174.3 955.9,1198.2 974.3,1186.9 992.1,1174.9"/>
<polygon fill="#97b922" points="943.7,1173.6 925.9,1183.7 907.7,1193.1 919.2,1217.9 938.4,1208.1 957.2,1197.5"/>
<polygon fill="#98b922" points="909,1192.4 890.4,1201.1 871.5,1209.1 881.1,1234.8 901,1226.4 920.6,1217.3"/>
<polygon fill="#99b921" points="872.8,1208.6 853.6,1215.8 834.1,1222.3 841.7,1248.6 862.2,1241.8 882.5,1234.2"/>
<polygon fill="#9ab821" points="835.5,1221.8 815.7,1227.6 795.8,1232.5 801.2,1259.4 822.3,1254.2 843.1,1248.2"/>
<polygon fill="#9bb820" points="797.2,1232.2 777,1236.4 756.7,1239.8 760,1267 781.5,1263.4 802.7,1259"/>
<polygon fill="#9cb820" points="758.1,1239.6 737.6,1242.2 717,1244 718.4,1273.4 740.1,1271.5 761.8,1268.7"/>
<polygon fill="#9db720" points="718.5,1243.9 697.8,1244.9 677.2,1245.1 676.2,1274.5 698.1,1274.3 719.9,1273.3"/>
<polygon fill="#9eb720" points="678.6,1245.2 657.9,1244.6 637.2,1243.2 634,1272.4 655.9,1273.9 677.7,1274.5"/>
<polygon fill="#9eb720" points="638.7,1243.3 618,1241.1 597.5,1238.1 592.5,1264.8 614.1,1268 635.8,1270.3"/>
<polygon fill="#9fb620" points="598.9,1238.3 578.5,1234.6 558.2,1230 551.1,1256.2 572.5,1261.1 594,1265.1"/>
<polygon fill="#a0b620" points="559.6,1230.3 539.5,1225 519.7,1218.8 510.5,1244.4 531.5,1250.9 552.6,1256.6"/>
<polygon fill="#a0b620" points="521,1219.3 501.4,1212.3 482,1204.6 472.4,1226.1 492.7,1234.2 513.2,1241.4"/>
<polygon fill="#a1b520" points="483.3,1205.2 464.2,1196.8 445.5,1187.6 434.3,1208.2 453.9,1217.9 473.8,1226.7"/>
<polygon fill="#a2b520" points="446.8,1188.2 428.4,1178.3 410.3,1167.7 397.6,1187.4 416.4,1198.6 435.6,1208.9"/>
<polygon fill="#a2b420" points="411.6,1168.5 394,1157.2 376.8,1145.1 362.2,1164.2 380.2,1176.8 398.6,1188.7"/>
<polygon fill="#a3b420" points="378,1146 361.3,1133.3 345.1,1120 329.1,1137.9 346,1151.8 363.5,1165.1"/>
<polygon fill="#a4b420" points="346.2,1120.9 330.5,1107 315.3,1092.4 298,1109 313.8,1124.3 330.2,1138.9"/>
<polygon fill="#a4b320" points="316.3,1093.4 301.7,1078.3 287.8,1062.6 269.6,1077.4 284.2,1093.9 299.4,1109.7"/>
<polygon fill="#a5b320" points="288.7,1063.7 275.3,1047.4 262.5,1030.6 243.3,1044 256.6,1061.6 270.6,1078.6"/>
<polygon fill="#a6b220" points="263.4,1031.8 251.3,1014.5 239.9,996.7 219.6,1008.6 231.5,1027.2 244.2,1045.3"/>
<polygon fill="#a6b220" points="240.6,998 229.9,979.8 219.8,961.2 199.6,971 210,990.5 221.3,1009.4"/>
<polygon fill="#a7b220" points="220.5,962.5 211.2,943.5 202.6,924.1 181.6,932.3 190.6,952.6 200.3,972.4"/>
<polygon fill="#a8b120" points="203.2,925.4 195.3,905.7 188.2,885.7 166.7,892.3 174.1,913.2 182.2,933.8"/>
<polygon fill="#a8b120" points="188.7,887.1 182.4,866.8 176.9,846.3 155.8,851 161.5,872.4 168.1,893.5"/>
<polygon fill="#a9b120" points="177.3,847.7 172.5,827 168.6,806 147.3,809.1 151.3,830.9 156.2,852.5"/>
<polygon fill="#aab020" points="168.9,807.5 165.8,786.4 163.5,765.2 142,766.6 144.3,788.7 147.5,810.6"/>
<polygon fill="#aaaf20" points="163.7,766.7 162.2,745.4 161.6,724 141.1,723.8 141.7,746 143.2,768.1"/>
<polygon fill="#aaae1f" points="161.6,725.5 161.8,704.1 162.8,682.8 142.4,680.9 141.3,703.1 141.1,725.3"/>
<polygon fill="#abad1f" points="162.7,684.2 164.6,662.9 167.3,641.6 147.1,638.2 144.3,660.3 142.3,682.5"/>
<polygon fill="#abac1f" points="167.1,643.1 170.6,622 174.9,600.9 155.5,596.1 151,617.9 147.3,639.8"/>
<polygon fill="#abab1e" points="174.6,602.4 179.8,581.5 185.7,560.9 166.8,554.5 160.5,576 155.2,597.6"/>
<polygon fill="#acaa1e" points="185.3,562.3 192,541.9 199.6,521.7 181.2,513.9 173.3,534.8 166.3,556"/>
<polygon fill="#aca91e" points="199.1,523.1 207.4,503.2 216.5,483.7 201.3,475.8 191.8,496 183.2,516.5"/>
<polygon fill="#aca71d" points="215.9,485 225.7,465.8 236.4,447 221.8,438 210.8,457.4 200.6,477.2"/>
<polygon fill="#aca61d" points="235.6,448.3 246.9,429.9 259,412 245.2,401.8 232.7,420.3 221,439.3"/>
<polygon fill="#ada51c" points="258.2,413.2 270.9,395.7 284.4,378.7 272.9,368.8 259,386.3 245.9,404.3"/>
<polygon fill="#ada41c" points="283.4,379.9 297.5,363.4 312.3,347.5 301.5,336.7 286.4,353.1 271.9,370"/>
<polygon fill="#ada31c" points="311.2,348.6 326.6,333.2 342.5,318.5 332.7,306.9 316.3,322 300.5,337.8"/>
<polygon fill="#aea21b" points="341.4,319.5 357.9,305.3 375,291.8 366.2,279.7 348.6,293.5 331.7,308.1"/>
<polygon fill="#aea11b" points="373.8,292.7 391.4,279.9 409.5,267.7 401.7,255 383.1,267.4 365,280.6"/>
<polygon fill="#ae9f1a" points="408.3,268.6 426.8,257.1 445.9,246.4 439,233 419.5,244 400.4,255.8"/>
<polygon fill="#ae9e1a" points="444.5,247.1 464,237.1 483.8,227.9 477.9,213.7 457.5,223.2 437.5,233.5"/>
<polygon fill="#af9d1a" points="482.4,228.5 502.6,220 523.1,212.3 518.3,197.8 497.2,205.7 476.5,214.4"/>
<polygon fill="#af9c19" points="521.7,212.8 542.5,205.9 563.6,199.9 559.9,185 538.3,191.2 516.9,198.3"/>
<polygon fill="#af9b19" points="562.1,200.3 583.4,195 605,190.6 602.4,174.8 580.2,179.3 558.3,184.7"/>
<polygon fill="#b09a19" points="603.5,190.9 625.1,187.2 647,184.5 645.6,168.6 623.2,171.4 600.8,175.1"/>
<polygon fill="#b09918" points="645.5,184.7 667.4,182.7 689.4,181.7 689.3,165.7 666.7,166.8 644.1,168.7"/>
<polygon fill="#b09718" points="687.9,181.7 710,181.5 732,182.2 733,168.4 710.4,167.7 687.8,167.9"/>
<polygon fill="#b19517" points="730.5,182.1 752.5,183.6 774.5,186 776.6,172.3 754,169.9 731.4,168.3"/>
<polygon fill="#b19417" points="773,185.8 794.9,189 816.7,193.1 819.8,179.6 797.4,175.4 775,172.1"/>
<polygon fill="#b19217" points="815.2,192.8 836.8,197.7 858.2,203.5 861.9,191.7 840,185.8 817.9,180.8"/>
<polygon fill="#b29016" points="856.7,203 877.9,209.6 898.9,217 903.4,205.6 882,198 860.4,191.3"/>
<polygon fill="#b28f16" points="897.4,216.5 918.1,224.7 938.4,233.7 943.9,222.7 923.1,213.4 902,205"/>
<polygon fill="#b28d16" points="937,233.1 957,242.9 976.6,253.5 982.7,243.2 962.7,232.3 942.3,222.3"/>
<polygon fill="#b38b15" points="975.3,252.7 994.5,264.1 1013.2,276.2 1020.1,266.4 1001,254 981.4,242.4"/>
<polygon fill="#b38915" points="1011.9,275.3 1030.2,288.1 1048,301.7 1055.6,292.4 1037.5,278.6 1018.8,265.5"/>
<polygon fill="#b48814" points="1046.8,300.7 1064,314.9 1080.7,329.8 1093.5,316.7 1076.2,301.2 1058.4,286.6"/>
<polygon fill="#b48614" points="1079.6,328.8 1095.7,344.3 1111.3,360.5 1125,348.3 1109,331.6 1092.3,315.6"/>
<polygon fill="#b48414" points="1110.2,359.3 1125.1,376.1 1139.4,393.5 1154,382.4 1139.3,364.5 1123.9,347.2"/>
<polygon fill="#b58313" points="1138.4,392.2 1152,410.1 1164.9,428.6 1181.9,417.6 1168.6,398.5 1154.6,379.9"/>
<polygon fill="#b58113" points="1164,427.3 1176.2,446.2 1187.6,465.6 1205.5,456 1193.7,435.9 1181,416.3"/>
<polygon fill="#b67f12" points="1186.8,464.2 1197.5,484.1 1207.4,504.4 1226,496.2 1215.7,475.2 1204.7,454.6"/>
<polygon fill="#b67d12" points="1206.7,502.9 1215.9,523.6 1224.2,544.6 1245.9,537 1237.3,515.1 1227.8,493.6"/>
<polygon fill="#b67c12" points="1223.6,543.1 1231.1,564.4 1237.8,586.1 1260,580.2 1253.1,557.7 1245.3,535.5"/>
<polygon fill="#b77a11" points="1237.4,584.6 1243.2,606.4 1248.2,628.5 1270.8,624.4 1265.7,601.4 1259.6,578.6"/>
<polygon fill="#b77811" points="1247.9,627 1252,649.3 1255.3,671.7 1282.1,668.9 1278.7,645.4 1274.4,622"/>
<polygon fill="#b77711" points="1255.1,670.2 1257.5,692.8 1259,715.4 1286,714.7 1284.4,691 1281.9,667.3"/>
<polygon fill="#b87510" points="1258.9,713.9 1259.6,736.6 1259.3,759.4 1286.3,760.7 1286.6,736.9 1285.9,713.1"/>
<polygon fill="#b87310" points="1259.3,757.8 1258.2,780.5 1256.2,803.2 1288.9,807.5 1291.1,783.4 1292.3,759.4"/>
<polygon fill="#b8710f" points="1256.4,801.7 1253.5,824.3 1249.7,846.8 1282,853.6 1286,829.7 1289.1,805.8"/>
<polygon fill="#b86f0f" points="1250,845.2 1245.4,867.6 1239.8,889.8 1271.5,899 1277.4,875.6 1282.3,851.9"/>
<polygon fill="#b86d0e" points="1240.2,888.3 1233.9,910.2 1226.6,932 1257.5,943.6 1265.2,920.7 1272,897.4"/>
<polygon fill="#b86b0e" points="1227.2,930.5 1219.1,951.9 1210.2,973 1240.1,987.1 1249.5,964.7 1258.1,942"/>
<polygon fill="#b8690e" points="1210.8,971.6 1201.1,992.4 1190.6,1012.8 1219.3,1029.1 1230.5,1007.5 1240.7,985.5"/>
<polygon fill="#b8670d" points="1191.3,1011.4 1180,1031.4 1167.9,1050.9 1197.3,1070.8 1210.2,1050 1222.3,1028.8"/>
<polygon fill="#b8650d" points="1168.8,1049.6 1155.9,1068.7 1142.3,1087.3 1170.1,1109.4 1184.6,1089.6 1198.3,1069.4"/>
<polygon fill="#b8630c" points="1143.3,1086 1129,1104.1 1113.9,1121.6 1139.9,1145.7 1155.9,1127.2 1171.1,1108"/>
<polygon fill="#b8610c" points="1115,1120.4 1099.3,1137.3 1082.9,1153.6 1105.3,1177.9 1122.6,1160.7 1139.2,1142.8"/>
<polygon fill="#b85f0b" points="1084.1,1152.5 1067.1,1168.2 1049.5,1183.2 1069.9,1209.1 1088.6,1193.3 1106.5,1176.7"/>
<polygon fill="#b85d0b" points="1050.8,1182.2 1032.6,1196.5 1013.8,1210.1 1032.2,1237.6 1052,1223.2 1071.2,1208"/>
<polygon fill="#b85b0a" points="1015.2,1209.2 995.9,1222.1 976.1,1234.2 991.4,1261.5 1012.3,1248.8 1032.6,1235.2"/>
<polygon fill="#b8590a" points="977.5,1233.4 957.3,1244.8 936.6,1255.4 949.7,1283.8 971.6,1272.7 992.9,1260.7"/>
<polygon fill="#b8570a" points="938,1254.7 917,1264.5 895.5,1273.5 906.4,1302.8 929,1293.4 951.3,1283.1"/>
<polygon fill="#b85509" points="897,1272.9 875.2,1281 853,1288.3 860.7,1315 883.9,1307.4 906.8,1298.9"/>
<polygon fill="#b85309" points="854.6,1287.8 832.2,1294.3 809.5,1299.8 815,1327.1 838.8,1321.3 862.3,1314.5"/>
<polygon fill="#b85108" points="811.1,1299.5 788.2,1304.2 765.1,1308 768.6,1335.5 792.7,1331.6 816.7,1326.7"/>
<polygon fill="#b84f08" points="766.7,1307.7 743.5,1310.6 720.2,1312.6 721.5,1340.2 745.9,1338.1 770.2,1335.1"/>
<polygon fill="#b94e08" points="721.8,1312.5 698.4,1313.6 675,1313.8 674.1,1341.4 698.7,1341.2 723.2,1340.1"/>
<polygon fill="#b94c08" points="676.6,1313.8 653.2,1313.1 629.7,1311.5 626.7,1338.9 651.3,1340.7 675.8,1341.4"/>
<polygon fill="#b94b08" points="631.4,1311.6 608,1309.1 584.8,1305.6 579.9,1331.2 604.2,1334.8 628.6,1337.5"/>
<polygon fill="#ba4908" points="586.4,1305.9 563.2,1301.6 540.3,1296.3 533.5,1321.4 557.5,1326.9 581.6,1331.5"/>
<polygon fill="#ba4808" points="541.9,1296.7 519.1,1290.6 496.6,1283.5 487.9,1308 511.4,1315.4 535.2,1321.8"/>
<polygon fill="#ba4608" points="498.2,1284 475.9,1276.2 454,1267.4 443.7,1290.5 466.6,1299.7 489.8,1307.9"/>
<polygon fill="#bb4508" points="455.5,1268 433.9,1258.4 412.7,1248 400.7,1270.2 422.8,1281.1 445.3,1291.2"/>
<polygon fill="#bb4308" points="414.2,1248.7 393.4,1237.5 373,1225.4 359.3,1246.6 380.5,1259.2 402.2,1271"/>
<polygon fill="#bc4208" points="374.4,1226.2 354.5,1213.4 335.1,1199.7 322.1,1216.8 342.2,1231 362.8,1244.3"/>
<polygon fill="#bc4008" points="336.4,1200.7 317.6,1186.3 299.3,1171.2 284.9,1187.2 303.9,1202.9 323.4,1217.8"/>
<polygon fill="#bc3e08" points="300.5,1172.3 282.8,1156.4 265.7,1139.9 250.2,1154.8 267.9,1171.9 286.2,1188.3"/>
<polygon fill="#bd3d08" points="266.9,1141.1 250.4,1123.9 234.6,1106.1 220.3,1117.8 236.5,1136.2 253.5,1153.9"/>
<polygon fill="#bd3b08" points="235.7,1107.3 220.5,1088.9 206.2,1069.9 191,1080.4 205.8,1100.1 221.4,1119.1"/>
<polygon fill="#be3a08" points="207.1,1071.2 193.5,1051.6 180.6,1031.5 164.7,1040.9 177.9,1061.6 192,1081.8"/>
<polygon fill="#be3808" points="181.5,1032.9 169.4,1012.3 158.1,991.3 141.9,999.1 153.5,1020.9 166,1042.1"/>
<polygon fill="#be3708" points="158.8,992.7 148.3,971.2 138.7,949.3 121.9,955.9 131.8,978.5 142.7,1000.7"/>
<polygon fill="#bf3508" points="139.3,950.8 130.5,928.5 122.6,905.9 105.4,911.2 113.5,934.5 122.6,957.5"/>
<polygon fill="#bf3408" points="123.1,907.5 116,884.5 109.9,861.3 93.8,864.9 100.1,888.8 107.3,912.4"/>
<polygon fill="#bf3208" points="110.3,862.9 105,839.5 100.6,815.8 84.3,818.2 88.8,842.5 94.2,866.6"/>
<polygon fill="#c03108" points="100.9,817.5 97.5,793.7 95,769.7 78.5,770.8 81.1,795.4 84.6,819.9"/>
<polygon fill="#c02f08" points="95.1,771.4 93.5,747.3 92.9,723.2 77.4,723 78,747.7 79.7,772.4"/>
<polygon fill="#c02d08" points="92.9,724.9 93.2,700.7 94.4,676.6 79,675.2 77.7,700 77.4,724.7"/>
<polygon fill="#c02c08" points="94.3,678.3 96.4,654.2 99.6,630.2 84.3,627.6 81.1,652.2 78.9,676.9"/>
<polygon fill="#c02a08" points="99.3,631.9 103.3,608 108.3,584.3 97.1,581.5 92.1,605.7 88,630"/>
<polygon fill="#c02808" points="107.9,585.9 113.8,562.4 120.6,539.1 109.7,535.5 102.7,559.2 96.7,583.2"/>
<polygon fill="#c02608" points="120.1,540.7 127.7,517.7 136.3,495 125.8,490.5 117,513.6 109.2,537.1"/>
<polygon fill="#c02408" points="135.7,496.5 145.2,474.1 155.5,452.1 146.6,447.5 136.1,469.9 126.5,492.7"/>
<polygon fill="#c02308" points="154.8,453.6 165.9,432 178,410.8 169.5,405.6 157.2,427.1 145.9,449.1"/>
<polygon fill="#c02108" points="177.1,412.3 190,391.6 203.6,371.3 195.6,365.4 181.7,386 168.6,407"/>
<polygon fill="#c01f08" points="202.7,372.7 217.1,353 232.3,333.9 224.7,327.4 209.2,346.8 194.6,366.8"/>
<polygon fill="#c01d08" points="231.2,335.2 247.1,316.7 263.8,298.8 256.8,291.7 239.8,309.9 223.6,328.7"/>
<polygon fill="#c01c08" points="262.6,300 280,282.7 298,266.1 291.5,258.5 273.2,275.4 255.6,292.9"/>
<polygon fill="#c01a08" points="296.7,267.3 315.4,251.4 334.7,236.2 328.2,227.3 308.6,242.7 289.6,258.9"/>
<polygon fill="#c01808" points="333.3,237.2 353.2,222.8 373.6,209.2 367.9,199.8 347.1,213.7 326.8,228.4"/>
<polygon fill="#c01608" points="372.2,210.1 393.1,197.2 414.6,185.2 409.6,175.4 387.7,187.6 366.4,200.7"/>
<polygon fill="#c01408" points="413.1,186 435,174.8 457.4,164.5 453.3,154.8 430.6,165.3 408.3,176.7"/>
<polygon fill="#c01308" points="455.8,165.2 478.5,155.7 501.7,147.1 498.4,137.1 474.9,145.8 451.7,155.5"/>
<polygon fill="#c01108" points="500.1,147.6 522.7,140.2 545.6,133.6 543.1,123.4 519.8,130.1 496.7,137.7"/>
</g>
<g fill="none" stroke="#bbbbbb" stroke-width="1" shape-rendering="crispEdges">
<polyline points="505.3,510.8 512.8,504.1 520.6,497.6 528.6,491.4 536.8,485.5 545.3,479.8 554,474.5 562.8,469.4 571.8,464.7 581,460.2 590.4,456.1 599.9,452.3 609.6,448.9 619.4,445.7 629.3,443 639.3,440.5 649.4,438.4 659.5,436.7 669.8,435.3 680.1,434.3 690.4,433.6 700.8,433.3 711.2,433.4 721.6,433.8 732,434.6 742.3,435.7 752.7,437.2 763,439.1 773.2,441.4 783.3,444 793.4,446.9 803.4,450.2 813.3,453.9 823,457.9 832.6,462.2 842.1,466.9 851.4,471.9 860.5,477.3 869.5,483 878.2,489 886.8,495.3 895.1,501.9 903.3,508.8 911.1,516 918.8,523.4 926.2,531.2 933.3,539.2 940.1,547.5 946.7,556 952.9,564.7 958.9,573.7 964.5,582.8 969.8,592.2 974.9,601.8 979.5,611.5 983.9,621.5 987.9,631.6 991.5,641.8 994.8,652.1 997.7,662.6 1000.3,673.2 1002.4,683.9 1004.3,694.7 1005.7,705.5 1006.8,716.4 1007.4,727.4 1007.7,738.3 1007.7,749.3 1007.2,760.3 1006.3,771.3 1005.1,782.2 1003.5,793.2 1001.5,804 999.1,814.9 996.3,825.6 993.2,836.2 989.7,846.8 985.8,857.2 981.5,867.5 976.9,877.6 971.9,887.6 966.6,897.4 960.9,907.1 954.9,916.5 948.6,925.8 941.9,934.8 934.9,943.6 927.6,952.2 920,960.5 912.1,968.5 903.9,976.3 895.4,983.8 886.7,991 877.7,997.9 868.4,1004.5 859,1010.8 849.3,1016.7 839.4,1022.3 829.2,1027.6 818.9,1032.5 808.5,1037 797.8,1041.2 787,1045.1 776.1,1048.5 765,1051.6 753.8,1054.2 742.6,1056.5 731.2,1058.4 719.8,1059.9 708.3,1061 696.7,1061.7 685.1,1062 673.6,1061.9 662,1061.4 650.4,1060.5 638.8,1059.2 627.3,1057.4 615.9,1055.3 604.5,1052.8 593.2,1049.8 582,1046.5 570.9,1042.8 559.9,1038.6 549.1,1034.1 538.4,1029.3 527.8,1024 517.5,1018.4 507.4,1012.4 497.4,1006 487.7,999.3 478.2,992.3 468.9,984.9 459.9,977.2 451.2,969.1 442.7,960.8 434.6,952.2 426.7,943.2 419.1,934 411.9,924.5 404.9,914.8 398.4,904.8 392.1,894.6 386.2,884.1 380.7,873.5 375.6,862.6 370.8,851.6 366.4,840.4 362.4,829 358.8,817.5 355.6,805.9 352.8,794.1 350.4,782.2 348.4,770.3 346.9,758.2 345.7,746.1 345,734 344.7,721.8 344.8,709.6 345.4,697.4 346.4,685.3 347.8,673.1 349.6,661 351.9,649 354.6,637 357.7,625.1 361.2,613.4 365.2,601.7 369.5,590.2 374.3,578.8 379.4,567.6 384.9,556.5 390.9,545.7 397.2,535 403.9,524.6 411,514.3 418.4,504.4 426.1,494.7 434.3,485.2 442.7,476.1 451.5,467.2 460.6,458.6 470,450.3 479.7,442.4 489.6,434.8 499.9,427.6 510.4,420.7 521.1,414.1 532.1,408 543.3,402.2 554.7,396.8 566.3,391.8 578,387.2 590,383 602.1,379.3 614.3,375.9 626.7,373 639.1,370.5 651.7,368.5 664.3,366.8 677,365.7 689.7,364.9 702.5,364.6 715.3,364.8 728.1,365.4 740.8,366.5 753.6,368 766.3,369.9 778.9,372.3 791.5,375.1 803.9,378.4 816.3,382.1 828.5,386.3 840.6,390.8 852.5,395.8 864.3,401.3 875.8,407.1 887.2,413.3 898.4,420 909.3,427 920,434.4 930.4,442.2 940.6,450.4 950.5,458.9 960.1,467.8 969.4,477 978.3,486.5 987,496.4 995.3,506.5 1003.2,517 1010.8,527.7 1018,538.7 1024.9,550 1031.3,561.5 1037.3,573.2 1043,585.2 1048.2,597.3 1053,609.7 1057.3,622.2 1061.3,634.9 1064.8,647.7 1067.8,660.6 1070.4,673.7 1072.5,686.8 1074.2,700 1075.4,713.3 1076.1,726.7 1076.4,740 1076.2,753.4 1075.6,766.8 1074.5,780.2 1072.9,793.5 1070.8,806.8 1068.3,820 1065.3,833.1 1061.9,846.2 1058,859.1 1053.6,871.9 1048.8,884.5 1043.6,897 1037.9,909.3 1031.8,921.4 1025.2,933.3 1018.3,944.9 1010.9,956.4 1003.1,967.5 995,978.4 986.4,989.1 977.5,999.4 968.2,1009.4 958.6,1019.1 948.6,1028.5 938.3,1037.5 927.6,1046.2 916.7,1054.5 905.4,1062.4 893.9,1069.9 882.1,1077 870.1,1083.8 857.8,1090.1 845.3,1095.9 832.6,1101.4 819.7,1106.4 806.6,1110.9 793.4,1115 780,1118.6 766.4,1121.8 752.8,1124.5 739.1,1126.7 725.2,1128.4 711.3,1129.7 697.4,1130.4 683.4,1130.7 669.5,1130.5 655.5,1129.8 641.5,1128.6 627.6,1126.9 613.7,1124.8 599.9,1122.1 586.2,1119 572.6,1115.4 559.1,1111.3 545.8,1106.7 532.6,1101.7 519.6,1096.2 506.7,1090.2 494.1,1083.8 481.7,1077 469.5,1069.7 457.6,1062 445.9,1053.9 434.6,1045.3 423.5,1036.4 412.7,1027.1 402.3,1017.4 392.1,1007.3 382.4,996.8 373,986.1 363.9,974.9 355.3,963.5 347,951.8 339.2,939.8 331.8,927.4 324.8,914.9 318.2,902.1 312.1,889 306.5,875.7 301.3,862.3 296.5,848.6 292.3,834.8 288.5,820.8 285.2,806.7 282.5,792.5 280.2,778.1 278.4,763.7 277.1,749.2 276.3,734.7 276,720.1 276.3,705.5 277,690.9 278.3,676.4 280,661.9 282.3,647.4 285.1,633 288.4,618.7 292.2,604.6 296.4,590.5 301.2,576.6 306.5,562.8 312.2,549.3 318.4,535.9 325.1,522.8 332.3,509.8 339.9,497.2 347.9,484.7 356.4,472.6 365.3,460.8 374.6,449.2 384.4,438 394.5,427.1 405,416.6 415.9,406.4 427.1,396.6 438.7,387.2 450.6,378.3 462.9,369.7 475.4,361.5 488.2,353.8 501.3,346.5 514.7,339.7 528.3,333.4 542.1,327.5 556.2,322.1 570.4,317.2 584.8,312.8 599.4,308.9 614.1,305.5 628.9,302.6 643.8,300.2 658.8,298.4 673.9,297 689,296.2 704.2,296 719.4,296.2 734.6,297 749.7,298.3 764.8,300.2 779.9,302.6 794.9,305.5 809.7,308.9 824.5,312.9 839.1,317.3 853.6,322.3 867.9,327.8 882,333.8 895.9,340.3 909.6,347.3 923,354.7 936.2,362.6 949.1,371 961.7,379.9 974.1,389.1 986.1,398.9 997.7,409 1009,419.5 1020,430.5 1030.5,441.8 1040.7,453.5 1050.4,465.6 1059.8,478 1068.7,490.7 1077.2,503.8 1085.2,517.1 1092.7,530.8 1099.8,544.7 1106.4,558.8 1112.5,573.2 1118.1,587.8 1123.2,602.6 1127.8,617.6 1131.8,632.7 1135.3,648 1138.3,663.4 1140.8,678.9 1142.7,694.6 1144,710.2 1144.8,726 1145.1,741.7 1144.8,757.5 1144,773.3 1142.6,789 1140.7,804.8 1138.2,820.4 1135.1,835.9 1131.5,851.4 1127.4,866.7 1122.8,881.9 1117.6,897 1111.9,911.8 1105.6,926.5 1098.9,940.9 1091.6,955.1 1083.9,969.1 1075.6,982.8 1066.9,996.2 1057.7,1009.3 1048,1022.1 1037.9,1034.5 1027.4,1046.6 1016.4,1058.4 1005,1069.7 993.3,1080.7 981.1,1091.2 968.6,1101.3 955.7,1111 942.4,1120.3 928.9,1129.1 915,1137.4 900.8,1145.2 886.4,1152.5 871.7,1159.4 856.7,1165.7 841.6,1171.5 826.2,1176.7 810.7,1181.5 794.9,1185.7 779,1189.3 763,1192.4 746.9,1194.9 730.7,1196.9 714.4,1198.3 698.1,1199.1 681.7,1199.4 665.3,1199.1 649,1198.2 632.6,1196.7 616.3,1194.7 600.1,1192.1 584,1188.9 567.9,1185.2 552,1180.9 536.3,1176.1 520.7,1170.7 505.3,1164.7 490.1,1158.2 475.1,1151.2 460.3,1143.7 445.9,1135.6 431.7,1127 417.8,1118 404.2,1108.4 390.9,1098.4 378,1087.9 365.5,1077 353.3,1065.6 341.5,1053.8 330.2,1041.5 319.3,1028.9 308.8,1015.9 298.7,1002.5 289.2,988.8 280.1,974.7 271.4,960.3 263.3,945.6 255.8,930.6 248.7,915.4 242.1,899.9 236.1,884.2 230.7,868.2 225.8,852.1 221.5,835.8 217.7,819.3 214.5,802.7 211.9,786 209.9,769.2 208.5,752.3 207.6,735.4 207.4,718.4 207.7,701.4 208.6,684.5 210.1,667.5 212.3,650.6 215,633.8 218.3,617.1 222.1,600.5 226.6,584 231.6,567.7 237.3,551.5 243.4,535.5 250.2,519.8 257.4,504.3 265.3,489 273.6,474 282.5,459.3 291.9,444.9 301.8,430.8 312.2,417.1 323.1,403.8 334.5,390.8 346.3,378.2 358.5,366 371.2,354.2 384.3,342.9 397.8,332.1 411.6,321.7 425.9,311.8 440.5,302.4 455.4,293.5 470.6,285.1 486.1,277.2 501.9,269.9 518,263.2 534.3,257 550.8,251.3 567.5,246.3 584.4,241.8 601.4,237.9 618.6,234.6 635.9,232 653.3,229.9 670.8,228.4 688.4,227.5 705.9,227.3 723.5,227.6 741.1,228.6 758.6,230.2 776.1,232.4 793.5,235.2 810.8,238.7 828,242.7 845.1,247.3 862,252.5 878.7,258.4 895.2,264.8 911.5,271.7 927.5,279.3 943.3,287.4 958.8,296.1 974.1,305.3 988.9,315 1003.5,325.3 1017.7,336.1 1031.5,347.3 1044.9,359.1 1058,371.3 1070.5,384 1082.7,397.1 1094.4,410.7 1105.6,424.6 1116.4,439 1126.6,453.7 1136.3,468.8 1145.5,484.3 1154.2,500 1162.3,516.1 1169.8,532.4 1176.8,549 1183.2,565.9 1189,583 1194.2,600.3 1198.9,617.8 1202.9,635.4 1206.2,653.2 1209,671.1 1211.1,689.1 1212.7,707.2 1213.5,725.3 1213.8,743.5 1213.4,761.6 1212.4,779.8 1210.7,797.9 1208.4,816 1205.5,834 1201.9,851.9 1197.8,869.7 1193,887.3 1187.6,904.8 1181.5,922 1174.9,939.1 1167.7,956 1159.8,972.6 1151.4,988.9 1142.5,1004.9 1132.9,1020.6 1122.9,1036 1112.2,1051 1101.1,1065.7 1089.4,1080 1077.3,1093.8 1064.6,1107.3 1051.5,1120.3 1037.9,1132.8 1023.9,1144.9 1009.5,1156.5 994.6,1167.6 979.4,1178.2 963.8,1188.2 947.9,1197.7 931.6,1206.6 915,1215 898.1,1222.8 880.9,1230 863.5,1236.6 845.8,1242.6 827.9,1248 809.9,1252.7 791.7,1256.8 773.3,1260.3 754.8,1263.2 736.2,1265.4 717.5,1266.9 698.8,1267.8 680,1268.1 661.2,1267.6 642.5,1266.6 623.8,1264.8 605.1,1262.5 586.5,1259.4 568,1255.8 549.7,1251.4 531.5,1246.5 513.4,1240.9 495.6,1234.6 478,1227.8 460.6,1220.3 443.4,1212.2 426.6,1203.5 410,1194.2 393.8,1184.4 377.9,1174 362.4,1163 347.3,1151.5 332.6,1139.4 318.3,1126.8 304.4,1113.8 291,1100.2 278,1086.2 265.5,1071.7 253.6,1056.8 242.2,1041.5 231.3,1025.8 220.9,1009.6 211.1,993.2 201.9,976.3 193.3,959.2 185.2,941.8 177.8,924 171,906 164.8,887.8 159.3,869.4 154.4,850.7 150.2,831.9 146.6,812.9 143.7,793.9 141.4,774.7 139.8,755.4 138.9,736.1 138.7,716.7 139.1,697.3 140.2,678 142,658.6 144.5,639.4 147.6,620.2 151.4,601.1 155.9,582.2 161.1,563.4 166.9,544.8 173.3,526.4 180.4,508.2 188.1,490.3 196.5,472.6 205.4,455.3 215,438.2 225.2,421.5 235.9,405.1 247.3,389.1 259.2,373.5 271.6,358.3 284.6,343.5 298.1,329.2 312,315.4 326.5,302.1 341.5,289.2 356.8,276.9 372.7,265.1 388.9,253.9 405.5,243.2 422.5,233.1 439.9,223.6 457.6,214.8 475.6,206.5 493.8,198.8 512.4,191.8 531.2,185.5 550.2,179.8 569.4,174.8 588.8,170.4 608.4,166.7 628.1,163.7 647.9,161.4 667.7,159.8 687.7,158.8 707.6,158.6 727.6,159.1 747.6,160.2 767.5,162.1 787.3,164.6 807.1,167.9 826.8,171.8 846.3,176.5 865.6,181.8 884.8,187.8 903.8,194.4 922.5,201.7 941,209.7 959.2,218.3 977.1,227.6 994.7,237.5 1011.9,248 1028.8,259.1 1045.2,270.7 1061.3,283 1077,295.8 1092.2,309.2 1106.9,323.1 1121.1,337.5 1134.9,352.4 1148.1,367.8 1160.8,383.7 1172.9,400 1184.5,416.7 1195.5,433.9 1205.8,451.4 1215.6,469.3 1224.8,487.5 1233.3,506.1 1241.1,524.9 1248.3,544 1254.9,563.4 1260.7,583 1265.9,602.8 1270.4,622.8 1274.2,642.9 1277.3,663.2 1279.6,683.6 1281.3,704.1 1282.2,724.6 1282.5,745.2 1282,765.7 1280.8,786.3 1278.8,806.8 1276.2,827.3 1272.8,847.6 1268.8,867.8 1264,887.9 1258.5,907.9 1252.3,927.6 1245.5,947.1 1237.9,966.4 1229.7,985.5 1220.8,1004.2 1211.3,1022.6 1201.1,1040.7 1190.3,1058.5 1178.8,1075.8 1166.8,1092.8 1154.2,1109.3 1140.9,1125.4 1127.2,1141.1 1112.8,1156.2 1098,1170.9 1082.6,1185 1066.8,1198.6 1050.4,1211.7 1033.6,1224.2 1016.4,1236.1 998.8,1247.4 980.7,1258 962.3,1268.1 943.5,1277.5 924.4,1286.2 905,1294.3 885.3,1301.7 865.4,1308.4 845.2,1314.5 824.8,1319.8 804.3,1324.4 783.5,1328.3 762.7,1331.4 741.7,1333.8 720.6,1335.5 699.5,1336.5 678.3,1336.7 657.1,1336.2 636,1335 614.9,1333 593.8,1330.2 572.9,1326.8 552.1,1322.6 531.4,1317.7 510.9,1312 490.6,1305.6 470.5,1298.6 450.6,1290.8 431.1,1282.3 411.8,1273.2 392.8,1263.3 374.2,1252.9 356,1241.7 338.1,1229.9 320.7,1217.5 303.7,1204.5 287.1,1190.9 271,1176.7 255.4,1162 240.4,1146.7 225.8,1130.9 211.8,1114.6 198.4,1097.8 185.6,1080.5 173.4,1062.7 161.8,1044.6 150.8,1026 140.5,1007.1 130.8,987.8 121.8,968.1 113.5,948.2 105.9,927.9 99,907.4 92.8,886.6 87.4,865.7 82.6,844.5 78.7,823.2 75.4,801.7 72.9,780.1 71.2,758.5 70.2,736.7 70,715 70.5,693.2 71.8,671.5 73.9,649.8 76.7,628.1 80.3,606.6 84.6,585.2 89.7,563.9 95.5,542.8 102.1,522 109.3,501.3 117.4,480.9 126.1,460.8 135.5,441 145.6,421.5 156.4,402.4 167.9,383.6 180,365.3 192.7,347.3 206.1,329.9 220.1,312.8 234.7,296.3 249.8,280.3 265.6,264.8 281.8,249.9 298.6,235.5 315.9,221.7 333.7,208.5 351.9,196 370.6,184.1 389.7,172.8 409.1,162.2 429,152.3 449.2,143.1 469.7,134.5 490.5,126.7 511.6,119.6 532.9,113.3 534.7,112.8"/>
<polyline points="490.4,493.4 498.5,486.2 506.9,479.2 515.6,472.5 524.5,466.2 533.7,460.1 543,454.4 552.6,448.9 562.3,443.8 572.3,439.1 582.4,434.7 592.6,430.6 603,426.9 613.6,423.6 624.3,420.6 635.1,418 646,415.8 656.9,413.9 668,412.5 679.1,411.4 690.2,410.7 701.4,410.4 712.6,410.5 723.7,411 734.9,411.9 746.1,413.1 757.2,414.8 768.3,416.9 779.3,419.3 790.2,422.1 801,425.3 811.8,428.9 822.4,432.9 832.8,437.2 843.2,441.9 853.3,447 863.3,452.4 873.1,458.2 882.7,464.3 892.2,470.8 901.3,477.6 910.3,484.7 919,492.1 927.5,499.9 935.6,508 943.5,516.3 951.2,524.9 958.5,533.8 965.5,543 972.2,552.4 978.6,562 984.6,571.9 990.3,582 995.7,592.3 1000.7,602.8 1005.3,613.4 1009.6,624.3 1013.4,635.3 1016.9,646.4 1020,657.6 1022.8,669 1025.1,680.5 1027,692.1 1028.5,703.7 1029.6,715.4 1030.3,727.1 1030.6,738.9 1030.5,750.7 1030,762.5 1029.1,774.2 1027.7,786 1025.9,797.7 1023.8,809.4 1021.2,820.9 1018.2,832.4 1014.8,843.8 1011,855.1 1006.8,866.3 1002.2,877.3 997.2,888.2 991.9,898.9 986.1,909.4 980,919.7 973.6,929.8 966.8,939.7 959.6,949.3 952.1,958.8 944.2,967.9 936.1,976.8 927.6,985.4 918.8,993.7 909.7,1001.7 900.3,1009.4 890.7,1016.8 880.8,1023.8 870.6,1030.5 860.2,1036.8 849.6,1042.8 838.8,1048.4 827.7,1053.6 816.5,1058.5 805.1,1062.9 793.5,1067 781.8,1070.7 770,1073.9 758,1076.8 746,1079.2 733.8,1081.2 721.6,1082.8 709.3,1083.9 696.9,1084.6 684.6,1084.9 672.2,1084.8 659.8,1084.2 647.4,1083.2 635.1,1081.7 622.8,1079.9 610.6,1077.6 598.4,1074.8 586.3,1071.7 574.3,1068.1 562.5,1064.1 550.8,1059.7 539.2,1054.8 527.8,1049.6 516.6,1043.9 505.6,1037.9 494.7,1031.5 484.1,1024.7 473.8,1017.5 463.6,1010 453.8,1002 444.2,993.8 434.9,985.2 425.9,976.3 417.2,967 408.8,957.5 400.7,947.7 393,937.5 385.6,927.1 378.6,916.5 372,905.5 365.7,894.4 359.9,883 354.4,871.4 349.3,859.6 344.7,847.7 340.4,835.5 336.6,823.3 333.2,810.8 330.3,798.3 327.7,785.6 325.7,772.9 324,760.1 322.8,747.2 322.1,734.2 321.8,721.3 322,708.3 322.6,695.3 323.7,682.3 325.2,669.4 327.2,656.5 329.6,643.7 332.5,630.9 335.8,618.3 339.6,605.7 343.8,593.3 348.5,581.1 353.6,568.9 359.1,557 365,545.3 371.3,533.7 378.1,522.4 385.2,511.3 392.8,500.4 400.7,489.8 409,479.5 417.6,469.5 426.6,459.7 436,450.3 445.7,441.2 455.7,432.4 466,424 476.6,416 487.5,408.3 498.7,400.9 510.1,394 521.8,387.5 533.7,381.4 545.9,375.7 558.2,370.4 570.7,365.5 583.5,361.1 596.3,357.1 609.3,353.6 622.5,350.5 635.7,347.9 649.1,345.7 662.5,344 676,342.8 689.5,342 703.1,341.7 716.7,341.9 730.2,342.6 743.8,343.8 757.3,345.4 770.8,347.5 784.2,350 797.5,353.1 810.8,356.6 823.9,360.5 836.8,364.9 849.7,369.8 862.3,375.2 874.8,380.9 887.1,387.1 899.1,393.8 911,400.9 922.6,408.3 933.9,416.2 945,424.5 955.7,433.2 966.2,442.3 976.4,451.7 986.2,461.5 995.7,471.6 1004.9,482.1 1013.7,492.9 1022.1,504 1030.1,515.4 1037.7,527.1 1045,539 1051.8,551.2 1058.2,563.7 1064.1,576.4 1069.6,589.3 1074.7,602.4 1079.3,615.7 1083.4,629.1 1087.1,642.7 1090.3,656.4 1093,670.2 1095.3,684.2 1097,698.2 1098.3,712.3 1099,726.4 1099.3,740.6 1099.1,754.8 1098.4,769 1097.2,783.1 1095.5,797.2 1093.3,811.3 1090.6,825.3 1087.4,839.2 1083.7,853 1079.6,866.7 1074.9,880.2 1069.8,893.6 1064.3,906.8 1058.2,919.8 1051.7,932.6 1044.8,945.2 1037.4,957.5 1029.6,969.6 1021.3,981.4 1012.7,993 1003.6,1004.2 994.1,1015.1 984.3,1025.7 974,1036 963.5,1045.9 952.5,1055.4 941.3,1064.6 929.7,1073.3 917.8,1081.7 905.6,1089.6 893.1,1097.1 880.3,1104.2 867.3,1110.9 854.1,1117.1 840.7,1122.8 827,1128.1 813.1,1132.8 799.1,1137.1 785,1141 770.6,1144.3 756.2,1147.1 741.7,1149.4 727.1,1151.2 712.4,1152.5 697.6,1153.3 682.9,1153.6 668.1,1153.3 653.3,1152.6 638.6,1151.3 623.8,1149.5 609.2,1147.2 594.6,1144.4 580.1,1141.1 565.7,1137.2 551.5,1132.9 537.4,1128 523.5,1122.7 509.7,1116.9 496.2,1110.6 482.8,1103.8 469.7,1096.5 456.9,1088.8 444.3,1080.7 432,1072.1 420,1063 408.3,1053.6 397,1043.7 385.9,1033.4 375.3,1022.8 365,1011.7 355.1,1000.3 345.5,988.6 336.4,976.5 327.7,964.1 319.5,951.4 311.7,938.4 304.3,925.1 297.4,911.6 291,897.8 285,883.8 279.6,869.6 274.6,855.1 270.1,840.5 266.2,825.8 262.7,810.9 259.8,795.9 257.4,780.7 255.5,765.5 254.2,750.2 253.4,734.9 253.1,719.5 253.4,704.2 254.2,688.8 255.6,673.4 257.4,658.1 259.9,642.9 262.8,627.7 266.3,612.6 270.3,597.7 274.8,582.9 279.9,568.2 285.5,553.7 291.5,539.5 298.1,525.4 305.2,511.5 312.7,497.9 320.7,484.5 329.2,471.5 338.2,458.7 347.6,446.2 357.5,434.1 367.7,422.3 378.4,410.8 389.5,399.7 401,389 412.9,378.7 425.1,368.9 437.6,359.4 450.5,350.4 463.8,341.8 477.3,333.7 491.1,326 505.2,318.9 519.5,312.2 534.1,306 548.9,300.4 563.9,295.2 579,290.6 594.4,286.5 609.9,282.9 625.5,279.9 641.2,277.5 657,275.5 672.9,274.2 688.8,273.3 704.8,273.1 720.8,273.4 736.7,274.2 752.7,275.6 768.6,277.6 784.4,280.1 800.2,283.2 815.8,286.8 831.3,291 846.7,295.7 861.9,301 877,306.8 891.8,313.1 906.4,320 920.8,327.3 935,335.2 948.8,343.5 962.4,352.4 975.7,361.7 988.6,371.4 1001.2,381.7 1013.5,392.4 1025.3,403.5 1036.8,415 1047.9,426.9 1058.6,439.2 1068.8,451.9 1078.6,465 1088,478.4 1096.9,492.1 1105.3,506.2 1113.2,520.5 1120.6,535.1 1127.5,550 1133.9,565.1 1139.8,580.5 1145.1,596.1 1149.9,611.8 1154.2,627.7 1157.8,643.8 1161,660 1163.5,676.3 1165.5,692.7 1166.9,709.2 1167.7,725.7 1168,742.3 1167.7,758.9 1166.8,775.5 1165.3,792 1163.2,808.5 1160.6,824.9 1157.4,841.3 1153.6,857.5 1149.3,873.6 1144.4,889.5 1138.9,905.3 1132.9,920.9 1126.3,936.3 1119.2,951.5 1111.6,966.4 1103.4,981 1094.7,995.4 1085.5,1009.4 1075.9,1023.2 1065.7,1036.6 1055.1,1049.7 1044,1062.4 1032.5,1074.7 1020.5,1086.6 1008.1,1098.1 995.4,1109.1 982.2,1119.7 968.7,1129.9 954.8,1139.6 940.5,1148.8 925.9,1157.5 911.1,1165.7 895.9,1173.4 880.5,1180.5 864.8,1187.1 848.9,1193.2 832.7,1198.7 816.4,1203.6 799.9,1208 783.3,1211.8 766.5,1215 749.5,1217.7 732.5,1219.7 715.5,1221.2 698.3,1222 681.2,1222.3 664,1221.9 646.8,1221 629.7,1219.4 612.6,1217.3 595.6,1214.5 578.6,1211.2 561.8,1207.3 545.2,1202.8 528.6,1197.7 512.3,1192 496.2,1185.7 480.2,1178.9 464.5,1171.5 449.1,1163.6 433.9,1155.1 419.1,1146.2 404.5,1136.6 390.3,1126.6 376.4,1116.1 362.9,1105.1 349.7,1093.6 337,1081.6 324.7,1069.2 312.8,1056.4 301.4,1043.2 290.4,1029.5 279.9,1015.5 269.9,1001.1 260.3,986.3 251.3,971.3 242.9,955.9 234.9,940.2 227.5,924.2 220.7,907.9 214.4,891.4 208.7,874.7 203.6,857.8 199.1,840.7 195.2,823.5 191.9,806.1 189.2,788.6 187.1,771 185.6,753.3 184.7,735.6 184.5,717.8 184.8,700.1 185.8,682.3 187.4,664.6 189.7,646.9 192.5,629.3 196,611.8 200.1,594.4 204.8,577.1 210,560 215.9,543.1 222.4,526.4 229.5,510 237.1,493.7 245.3,477.8 254.1,462.1 263.4,446.7 273.3,431.6 283.7,416.9 294.5,402.6 305.9,388.6 317.8,375 330.2,361.9 343,349.1 356.3,336.8 370,325 384.1,313.7 398.7,302.8 413.6,292.5 428.8,282.7 444.4,273.4 460.4,264.6 476.6,256.4 493.1,248.8 509.9,241.7 527,235.3 544.3,229.4 561.7,224.1 579.4,219.5 597.2,215.4 615.2,212 633.3,209.2 651.5,207 669.8,205.5 688.1,204.6 706.5,204.4 724.9,204.8 743.2,205.8 761.6,207.5 779.8,209.8 798,212.8 816.1,216.4 834.1,220.6 851.9,225.5 869.6,230.9 887,237 904.3,243.8 921.3,251.1 938.1,259 954.6,267.5 970.8,276.5 986.7,286.2 1002.2,296.4 1017.4,307.1 1032.2,318.4 1046.7,330.2 1060.7,342.5 1074.3,355.3 1087.4,368.5 1100.1,382.2 1112.3,396.4 1124,411 1135.2,426 1145.9,441.4 1156,457.2 1165.6,473.3 1174.7,489.8 1183.1,506.6 1191,523.6 1198.3,541 1204.9,558.6 1211,576.5 1216.4,594.5 1221.2,612.8 1225.4,631.2 1228.9,649.8 1231.8,668.5 1234,687.3 1235.5,706.1 1236.4,725.1 1236.7,744 1236.3,763 1235.2,782 1233.4,800.9 1231,819.8 1227.9,838.5 1224.2,857.2 1219.8,875.8 1214.8,894.2 1209.1,912.4 1202.8,930.4 1195.9,948.2 1188.3,965.8 1180.2,983.1 1171.4,1000.1 1162,1016.8 1152.1,1033.2 1141.5,1049.3 1130.4,1064.9 1118.8,1080.2 1106.6,1095.1 1093.9,1109.6 1080.7,1123.6 1067,1137.2 1052.8,1150.2 1038.2,1162.8 1023.1,1174.9 1007.6,1186.5 991.7,1197.5 975.5,1207.9 958.8,1217.8 941.8,1227.1 924.5,1235.8 906.9,1243.9 888.9,1251.4 870.8,1258.3 852.3,1264.5 833.7,1270.1 814.9,1275.1 795.9,1279.4 776.7,1283 757.4,1285.9 738,1288.2 718.5,1289.8 699,1290.7 679.4,1290.9 659.9,1290.5 640.3,1289.4 620.8,1287.6 601.3,1285.1 582,1281.9 562.7,1278 543.6,1273.5 524.6,1268.3 505.8,1262.4 487.2,1255.9 468.8,1248.8 450.7,1241 432.9,1232.5 415.3,1223.5 398.1,1213.8 381.2,1203.5 364.7,1192.6 348.5,1181.2 332.8,1169.2 317.4,1156.6 302.5,1143.5 288.1,1129.9 274.1,1115.7 260.6,1101.1 247.6,1086 235.2,1070.5 223.3,1054.5 212,1038.1 201.2,1021.3 191,1004.1 181.4,986.6 172.4,968.7 164.1,950.5 156.4,932.1 149.3,913.3 142.9,894.3 137.1,875.1 132.1,855.7 127.7,836.1 123.9,816.4 120.9,796.5 118.6,776.5 116.9,756.4 116,736.3 115.8,716.1 116.3,695.9 117.4,675.8 119.3,655.7 121.9,635.6 125.2,615.7 129.2,595.8 133.8,576.1 139.2,556.6 145.3,537.2 152,518 159.4,499.1 167.4,480.5 176.1,462.1 185.5,444 195.5,426.3 206.1,408.9 217.3,391.8 229.1,375.2 241.5,358.9 254.4,343.1 267.9,327.8 282,312.9 296.6,298.5 311.6,284.7 327.2,271.3 343.2,258.5 359.7,246.3 376.6,234.6 393.9,223.5 411.6,213 429.6,203.2 448,193.9 466.8,185.3 485.8,177.4 505.1,170.1 524.7,163.5 544.5,157.6 564.5,152.4 584.6,147.9 605,144.1 625.5,141 646,138.6 666.7,136.9 687.4,135.9 708.2,135.7 729,136.2 749.7,137.4 770.4,139.4 791.1,142.1 811.6,145.4 832.1,149.6 852.4,154.4 872.5,159.9 892.4,166.2 912.1,173.1 931.6,180.7 950.8,189 969.7,198 988.3,207.6 1006.6,217.9 1024.5,228.8 1042,240.4 1059.2,252.6 1075.9,265.3 1092.1,278.7 1107.9,292.6 1123.2,307 1138,322 1152.3,337.6 1166,353.6 1179.2,370.1 1191.8,387 1203.8,404.4 1215.2,422.2 1226,440.5 1236.1,459 1245.6,478 1254.4,497.3 1262.6,516.9 1270,536.7 1276.8,556.9 1282.9,577.2 1288.3,597.8 1292.9,618.6 1296.8,639.5 1300,660.6 1302.5,681.8 1304.2,703 1305.1,724.4 1305.4,745.7 1304.8,767.1 1303.6,788.5 1301.5,809.8 1298.8,831 1295.3,852.1 1291,873.2 1286.1,894 1280.4,914.7 1273.9,935.2 1266.8,955.5 1258.9,975.5 1250.4,995.3 1241.1,1014.7 1231.2,1033.9 1220.6,1052.7 1209.4,1071.1 1197.5,1089.1 1185,1106.7 1171.9,1123.9 1158.1,1140.6 1143.8,1156.8 1128.9,1172.5 1113.5,1187.8 1097.5,1202.4 1081,1216.5 1064.1,1230.1 1046.6,1243 1028.7,1255.4 1010.4,1267.1 991.7,1278.1 972.5,1288.6 953.1,1298.3 933.2,1307.4 913.1,1315.8 892.6,1323.4 871.9,1330.4 851,1336.6 829.8,1342.1 808.5,1346.9 786.9,1350.9 765.3,1354.2 743.5,1356.7 721.6,1358.4 699.7,1359.4 677.7,1359.6 655.8,1359.1 633.8,1357.8 611.9,1355.7 590.1,1352.8 568.4,1349.2 546.7,1344.9 525.3,1339.7 504,1333.9 483,1327.2 462.1,1319.9 441.5,1311.8 421.2,1303 401.2,1293.5 381.6,1283.3 362.3,1272.4 343.4,1260.8 324.9,1248.6 306.8,1235.7 289.1,1222.2 272,1208.1 255.3,1193.4 239.1,1178.1 223.5,1162.2 208.4,1145.8 193.9,1128.8 180,1111.4 166.7,1093.5 154.1,1075.1 142,1056.2 130.7,1037 120,1017.3 110,997.3 100.7,976.9 92.1,956.2 84.2,935.2 77.1,913.9 70.7,892.4 65,870.7 60.1,848.7 56,826.6 52.7,804.3 50.1,782 48.3,759.5 47.3,737 47.1,714.4 47.7,691.8 49,669.3 51.2,646.8 54.1,624.4 57.8,602 62.3,579.9 67.6,557.8 73.7,536 80.5,514.3 88,492.9 96.3,471.8 105.4,451 115.2,430.4 125.7,410.3 136.8,390.4 148.7,371 161.3,352 174.5,333.4 188.4,315.3 202.9,297.7 218.1,280.6 233.8,264 250.1,248 266.9,232.5 284.3,217.6 302.3,203.3 320.7,189.7 339.6,176.7 358.9,164.4 378.7,152.7 398.9,141.7 419.5,131.5 440.4,121.9 461.6,113.1 483.2,105 505.1,97.7 527.2,91.1 529,90.6"/>
<polyline points="475.5,476 484.2,468.3 493.3,460.8 502.6,453.7 512.2,446.9 522,440.4 532,434.2 542.3,428.4 552.8,423 563.5,417.9 574.3,413.2 585.3,408.9 596.5,405 607.8,401.4 619.3,398.3 630.9,395.5 642.5,393.1 654.3,391.2 666.1,389.7 678,388.5 690,387.8 701.9,387.5 713.9,387.7 725.9,388.2 737.9,389.2 749.8,390.6 761.7,392.4 773.6,394.6 785.4,397.2 797.1,400.3 808.6,403.7 820.1,407.6 831.5,411.9 842.7,416.5 853.7,421.6 864.6,427 875.3,432.9 885.7,439.1 896,445.7 906.1,452.6 915.9,459.9 925.4,467.5 934.7,475.5 943.8,483.8 952.5,492.5 960.9,501.4 969.1,510.6 976.9,520.2 984.4,530 991.5,540 998.3,550.4 1004.7,560.9 1010.8,571.7 1016.5,582.7 1021.8,594 1026.7,605.4 1031.3,617 1035.4,628.7 1039.1,640.6 1042.4,652.7 1045.3,664.8 1047.7,677.1 1049.8,689.4 1051.4,701.9 1052.5,714.4 1053.2,726.9 1053.5,739.5 1053.4,752.1 1052.8,764.6 1051.8,777.2 1050.3,789.7 1048.4,802.2 1046,814.7 1043.2,827 1040,839.3 1036.4,851.5 1032.3,863.5 1027.8,875.4 1022.9,887.1 1017.6,898.7 1011.8,910.1 1005.7,921.3 999.2,932.3 992.2,943.1 984.9,953.6 977.3,963.9 969.2,973.9 960.9,983.6 952.1,993.1 943.1,1002.3 933.7,1011.1 924,1019.6 914,1027.8 903.7,1035.6 893.1,1043.1 882.3,1050.2 871.2,1056.9 859.9,1063.3 848.3,1069.2 836.5,1074.8 824.6,1079.9 812.4,1084.6 800.1,1088.9 787.6,1092.8 775,1096.3 762.2,1099.3 749.4,1101.8 736.4,1103.9 723.4,1105.6 710.3,1106.8 697.2,1107.5 684,1107.8 670.8,1107.6 657.6,1107 644.5,1105.9 631.3,1104.3 618.3,1102.3 605.2,1099.8 592.3,1096.9 579.5,1093.5 566.7,1089.7 554.1,1085.4 541.7,1080.7 529.4,1075.5 517.3,1069.9 505.3,1063.9 493.6,1057.4 482.1,1050.6 470.9,1043.3 459.9,1035.7 449.1,1027.6 438.6,1019.2 428.4,1010.4 418.6,1001.3 409,991.8 399.8,981.9 390.9,971.8 382.3,961.3 374.1,950.5 366.3,939.5 358.9,928.1 351.9,916.5 345.3,904.6 339.1,892.5 333.3,880.2 327.9,867.7 323,855 318.5,842.1 314.5,829 310.9,815.8 307.8,802.5 305.1,789 302.9,775.5 301.2,761.9 300,748.2 299.2,734.4 298.9,720.7 299.1,706.9 299.8,693.1 301,679.4 302.6,665.6 304.8,652 307.4,638.3 310.4,624.8 314,611.4 318,598.1 322.5,585 327.5,572 332.9,559.1 338.7,546.5 345.1,534 351.8,521.8 359,509.8 366.6,498 374.6,486.5 383,475.3 391.8,464.4 401,453.7 410.6,443.4 420.5,433.5 430.8,423.8 441.4,414.5 452.4,405.6 463.6,397.1 475.2,389 487.1,381.2 499.2,373.9 511.6,367 524.2,360.5 537.1,354.5 550.2,348.9 563.5,343.8 576.9,339.1 590.6,334.9 604.3,331.2 618.3,328 632.3,325.2 646.4,323 660.7,321.2 674.9,319.9 689.3,319.1 703.6,318.9 718,319.1 732.4,319.8 746.8,321 761.1,322.8 775.4,325 789.5,327.8 803.6,331 817.6,334.7 831.5,338.9 845.2,343.6 858.8,348.8 872.2,354.5 885.3,360.6 898.3,367.2 911.1,374.2 923.6,381.7 935.8,389.7 947.8,398 959.5,406.8 970.9,416 982,425.6 992.7,435.6 1003.1,446 1013.1,456.7 1022.8,467.8 1032.1,479.2 1040.9,491 1049.4,503.1 1057.5,515.4 1065.1,528.1 1072.3,541 1079,554.2 1085.3,567.6 1091.1,581.2 1096.4,595.1 1101.2,609.1 1105.6,623.3 1109.5,637.7 1112.8,652.2 1115.7,666.8 1118,681.6 1119.8,696.4 1121.2,711.3 1121.9,726.2 1122.2,741.2 1122,756.2 1121.2,771.1 1119.9,786.1 1118.1,801 1115.7,815.9 1112.9,830.6 1109.5,845.3 1105.6,859.9 1101.2,874.3 1096.3,888.6 1090.8,902.7 1084.9,916.6 1078.5,930.4 1071.7,943.9 1064.3,957.1 1056.5,970.2 1048.2,982.9 1039.5,995.4 1030.3,1007.5 1020.8,1019.4 1010.7,1030.9 1000.3,1042 989.5,1052.8 978.4,1063.3 966.8,1073.3 954.9,1083 942.7,1092.2 930.1,1101 917.2,1109.3 904,1117.3 890.6,1124.7 876.9,1131.7 862.9,1138.2 848.7,1144.2 834.3,1149.8 819.7,1154.8 804.9,1159.3 789.9,1163.3 774.8,1166.8 759.6,1169.7 744.3,1172.2 728.9,1174.1 713.4,1175.4 697.9,1176.2 682.3,1176.5 666.7,1176.2 651.1,1175.4 635.6,1174 620.1,1172.1 604.6,1169.7 589.3,1166.7 574,1163.1 558.9,1159.1 543.9,1154.5 529,1149.3 514.4,1143.7 499.9,1137.5 485.6,1130.9 471.6,1123.7 457.8,1116.1 444.3,1107.9 431,1099.3 418.1,1090.2 405.5,1080.7 393.2,1070.7 381.2,1060.3 369.6,1049.5 358.4,1038.3 347.6,1026.6 337.2,1014.6 327.2,1002.2 317.6,989.5 308.4,976.4 299.8,963.1 291.6,949.4 283.8,935.4 276.6,921.1 269.8,906.6 263.6,891.8 257.9,876.9 252.6,861.7 248,846.3 243.8,830.8 240.2,815.1 237.2,799.3 234.7,783.4 232.7,767.4 231.3,751.3 230.5,735.1 230.2,719 230.5,702.8 231.4,686.6 232.9,670.5 234.9,654.4 237.4,638.3 240.5,622.4 244.2,606.6 248.5,590.8 253.2,575.3 258.6,559.9 264.4,544.6 270.8,529.6 277.8,514.8 285.2,500.3 293.2,486 301.6,471.9 310.6,458.2 320,444.8 329.9,431.7 340.3,418.9 351.1,406.5 362.4,394.5 374,382.9 386.1,371.6 398.6,360.8 411.4,350.5 424.6,340.5 438.2,331.1 452.1,322.1 466.3,313.6 480.8,305.6 495.7,298.1 510.7,291.1 526,284.6 541.6,278.7 557.3,273.3 573.3,268.4 589.4,264.2 605.7,260.4 622.1,257.3 638.6,254.7 655.2,252.7 671.9,251.3 688.6,250.4 705.4,250.2 722.1,250.5 738.9,251.4 755.6,252.9 772.3,255 789,257.7 805.5,260.9 821.9,264.8 838.2,269.2 854.3,274.1 870.3,279.7 886.1,285.8 901.7,292.4 917,299.6 932.1,307.4 946.9,315.6 961.4,324.4 975.7,333.7 989.6,343.5 1003.1,353.8 1016.4,364.5 1029.2,375.7 1041.6,387.4 1053.7,399.5 1065.3,412 1076.5,425 1087.2,438.3 1097.5,452 1107.3,466.1 1116.6,480.5 1125.4,495.2 1133.7,510.3 1141.5,525.6 1148.7,541.2 1155.4,557.1 1161.5,573.2 1167.1,589.5 1172.1,606 1176.5,622.7 1180.3,639.6 1183.6,656.6 1186.3,673.7 1188.3,690.9 1189.8,708.2 1190.6,725.5 1190.9,742.9 1190.5,760.3 1189.6,777.6 1188,795 1185.8,812.3 1183.1,829.5 1179.7,846.6 1175.7,863.6 1171.1,880.4 1166,897.2 1160.2,913.7 1153.9,930 1147,946.1 1139.5,962 1131.5,977.6 1122.9,993 1113.8,1008 1104.2,1022.7 1094.1,1037.1 1083.4,1051.2 1072.3,1064.8 1060.6,1078.1 1048.6,1091 1036,1103.4 1023,1115.5 1009.6,1127 995.8,1138.1 981.6,1148.7 967.1,1158.9 952.2,1168.5 936.9,1177.6 921.3,1186.2 905.4,1194.2 889.3,1201.6 872.8,1208.6 856.2,1214.9 839.3,1220.6 822.2,1225.8 804.9,1230.4 787.5,1234.3 769.9,1237.7 752.2,1240.4 734.4,1242.5 716.5,1244 698.6,1244.9 680.6,1245.2 662.6,1244.8 644.6,1243.8 626.7,1242.1 608.8,1239.9 591,1237 573.3,1233.5 555.7,1229.4 538.3,1224.6 521,1219.3 503.9,1213.3 487.1,1206.7 470.4,1199.6 454,1191.9 437.8,1183.6 422,1174.7 406.4,1165.3 391.2,1155.3 376.3,1144.8 361.8,1133.8 347.7,1122.2 334,1110.2 320.7,1097.7 307.8,1084.7 295.4,1071.3 283.5,1057.5 272,1043.2 261,1028.5 250.6,1013.4 240.6,998 231.2,982.2 222.4,966.1 214.1,949.7 206.4,933 199.3,916 192.7,898.7 186.8,881.3 181.5,863.6 176.8,845.7 172.7,827.7 169.2,809.5 166.4,791.2 164.2,772.8 162.7,754.4 161.8,735.8 161.6,717.3 162,698.7 163,680.1 164.7,661.6 167.1,643.1 170.1,624.7 173.7,606.4 178,588.3 182.9,570.3 188.4,552.4 194.6,534.8 201.4,517.3 208.8,500.1 216.8,483.2 225.4,466.5 234.6,450.1 244.3,434.1 254.6,418.4 265.5,403 276.9,388 288.8,373.5 301.2,359.3 314.1,345.6 327.5,332.3 341.4,319.5 355.7,307.1 370.5,295.3 385.7,284 401.2,273.2 417.2,262.9 433.5,253.2 450.1,244.1 467.1,235.6 484.3,227.6 501.9,220.3 519.7,213.6 537.7,207.4 556,202 574.4,197.1 593,192.9 611.8,189.4 630.7,186.5 649.7,184.2 668.8,182.6 687.9,181.7 707.1,181.5 726.2,181.9 745.4,183 764.5,184.8 783.6,187.2 802.6,190.3 821.4,194.1 840.2,198.5 858.8,203.6 877.2,209.4 895.4,215.7 913.4,222.7 931.2,230.4 948.6,238.6 965.8,247.5 982.7,257 999.3,267.1 1015.5,277.7 1031.3,288.9 1046.8,300.7 1061.8,313 1076.4,325.8 1090.6,339.2 1104.3,353 1117.5,367.3 1130.2,382.1 1142.4,397.4 1154.1,413 1165.2,429.1 1175.8,445.5 1185.7,462.4 1195.1,479.5 1203.9,497 1212.1,514.9 1219.7,533 1226.6,551.3 1232.9,569.9 1238.6,588.8 1243.6,607.8 1247.9,627 1251.5,646.3 1254.5,665.8 1256.8,685.4 1258.4,705.1 1259.3,724.8 1259.6,744.6 1259.1,764.4 1258,784.1 1256.1,803.8 1253.6,823.5 1250.4,843.1 1246.5,862.5 1241.9,881.9 1236.7,901 1230.7,920 1224.2,938.8 1216.9,957.3 1209,975.6 1200.5,993.6 1191.3,1011.4 1181.6,1028.8 1171.2,1045.8 1160.2,1062.5 1148.6,1078.9 1136.5,1094.8 1123.8,1110.3 1110.5,1125.3 1096.8,1139.9 1082.5,1154 1067.7,1167.6 1052.5,1180.7 1036.8,1193.3 1020.6,1205.3 1004.1,1216.8 987.1,1227.6 969.8,1237.9 952.1,1247.6 934,1256.7 915.6,1265.1 897,1272.9 878.1,1280 858.9,1286.5 839.5,1292.3 819.9,1297.4 800.1,1301.9 780.1,1305.6 760,1308.7 739.8,1311 719.6,1312.7 699.2,1313.6 678.9,1313.8 658.5,1313.4 638.1,1312.2 617.8,1310.3 597.6,1307.6 577.4,1304.3 557.4,1300.3 537.5,1295.6 517.7,1290.2 498.2,1284 478.8,1277.2 459.7,1269.8 440.9,1261.6 422.3,1252.8 404.1,1243.4 386.2,1233.3 368.6,1222.6 351.4,1211.3 334.6,1199.4 318.2,1186.8 302.3,1173.8 286.8,1160.1 271.7,1145.9 257.2,1131.2 243.2,1116 229.7,1100.3 216.8,1084.1 204.4,1067.5 192.7,1050.4 181.5,1032.9 170.9,1015.1 160.9,996.8 151.6,978.2 143,959.3 134.9,940.1 127.6,920.6 121,900.9 115,880.9 109.7,860.7 105.2,840.3 101.3,819.8 98.2,799.1 95.8,778.3 94.1,757.4 93.1,736.5 92.9,715.6 93.4,694.6 94.6,673.6 96.6,652.7 99.3,631.9 102.7,611.1 106.9,590.5 111.8,570 117.4,549.7 123.7,529.6 130.7,509.7 138.4,490 146.7,470.6 155.8,451.5 165.5,432.8 175.9,414.3 187,396.2 198.6,378.5 210.9,361.3 223.8,344.4 237.3,328 251.3,312.1 265.9,296.6 281.1,281.7 296.7,267.3 312.9,253.4 329.6,240.1 346.7,227.4 364.2,215.3 382.2,203.8 400.6,192.9 419.4,182.7 438.5,173.1 458,164.2 477.7,156 497.8,148.4 518.1,141.6 538.7,135.5 559.5,130.1 580.4,125.4 601.6,121.4 622.8,118.2 644.2,115.7 665.7,114 687.2,113 708.8,112.8 730.3,113.4 751.9,114.6 773.4,116.7 794.8,119.5 816.2,123 837.4,127.3 858.5,132.3 879.4,138.1 900,144.6 920.5,151.8 940.7,159.7 960.6,168.3 980.3,177.7 999.6,187.7 1018.5,198.4 1037.1,209.7 1055.3,221.7 1073.1,234.4 1090.4,247.6 1107.3,261.5 1123.6,275.9 1139.5,291 1154.9,306.5 1169.7,322.7 1183.9,339.3 1197.6,356.4 1210.6,374 1223.1,392.1 1234.9,410.6 1246.1,429.5 1256.6,448.8 1266.4,468.5 1275.6,488.5 1284,508.8 1291.8,529.4 1298.8,550.3 1305.1,571.5 1310.6,592.8 1315.4,614.4 1319.5,636.1 1322.8,658 1325.3,679.9 1327,702 1328,724.1 1328.3,746.3 1327.7,768.5 1326.4,790.6 1324.3,812.7 1321.4,834.8 1317.7,856.7 1313.3,878.5 1308.1,900.1 1302.2,921.6 1295.5,942.9 1288.1,963.9 1280,984.6 1271.1,1005.1 1261.5,1025.3 1251.2,1045.1 1240.2,1064.6 1228.5,1083.7 1216.2,1102.4 1203.2,1120.6 1189.5,1138.4 1175.3,1155.7 1160.4,1172.6 1145,1188.9 1129,1204.6 1112.4,1219.8 1095.3,1234.4 1077.7,1248.5 1059.6,1261.9 1041.1,1274.7 1022,1286.8 1002.6,1298.3 982.8,1309 962.6,1319.1 942,1328.5 921.1,1337.2 899.9,1345.1 878.5,1352.3 856.8,1358.8 834.8,1364.5 812.7,1369.4 790.4,1373.5 767.9,1376.9 745.3,1379.5 722.7,1381.3 699.9,1382.3 677.2,1382.5 654.4,1381.9 631.7,1380.6 609,1378.4 586.3,1375.4 563.8,1371.7 541.4,1367.1 519.2,1361.8 497.2,1355.7 475.3,1348.8 453.7,1341.2 432.4,1332.8 411.4,1323.7 390.7,1313.8 370.3,1303.2 350.3,1291.9 330.8,1279.9 311.6,1267.3 292.8,1253.9 274.6,1239.9 256.8,1225.3 239.5,1210 222.8,1194.1 206.6,1177.7 191,1160.7 176,1143.1 161.6,1125 147.9,1106.5 134.8,1087.4 122.3,1067.9 110.6,1047.9 99.5,1027.6 89.1,1006.8 79.5,985.7 70.6,964.3 62.5,942.5 55.1,920.5 48.5,898.2 42.7,875.6 37.6,852.9 33.4,830 29.9,807 27.3,783.8 25.4,760.5 24.4,737.2 24.2,713.8 24.8,690.5 26.2,667.1 28.5,643.8 31.5,620.6 35.4,597.5 40.1,574.5 45.5,551.7 51.8,529.1 58.9,506.7 66.7,484.6 75.3,462.7 84.7,441.1 94.8,419.9 105.7,399 117.3,378.5 129.6,358.4 142.6,338.7 156.3,319.5 170.7,300.8 185.8,282.5 201.4,264.8 217.7,247.7 234.6,231.1 252,215.1 270.1,199.7 288.6,184.9 307.7,170.8 327.3,157.4 347.3,144.6 367.8,132.6 388.7,121.2 409.9,110.6 431.6,100.8 453.6,91.6 475.9,83.3 498.5,75.7 521.4,69 523.3,68.4"/>
<path d="M639.8,471.1 L624.4,397 M822.7,490.6 L858.6,424 M953.7,627 L1024.1,599 M966.6,820.9 L1038.5,844.7 M848.6,981.9 L888.3,1046.3 M649.6,1030.4 L638.6,1105.3 M461.4,937.1 L404.9,987.5 M375.2,739.9 L299.6,742.1 M437.7,528.4 L378.3,481.5 M625.8,403.8 L610.5,329.7 M855.2,430.1 L891.1,363.5 M1017.5,601.6 L1087.9,573.6 M1031.8,842.5 L1103.7,866.3 M884.6,1040.3 L924.4,1104.7 M639.6,1098.3 L628.7,1173.2 M410.1,982.8 L353.5,1033.1 M306.6,741.9 L230.9,744.1 M383.8,485.8 L324.4,438.9 M611.9,336.6 L596.6,262.4 M887.8,369.6 L923.7,303 M1081.4,576.2 L1151.7,548.2 M1097,864.1 L1168.9,887.9 M920.7,1098.8 L960.5,1163.2 M629.7,1166.3 L618.8,1241.2 M358.8,1028.5 L302.2,1078.8 M237.9,743.9 L162.2,746.1 M329.9,443.2 L270.5,396.3 M598,269.3 L582.7,195.2 M920.4,309.2 L956.3,242.5 M1145.2,550.8 L1215.6,522.9 M1162.3,885.7 L1234.1,909.5 M956.8,1157.3 L996.6,1221.7 M619.8,1234.3 L608.8,1309.2 M307.5,1074.2 L250.9,1124.5 M169.2,745.9 L93.6,748.1 M276,400.6 L216.6,353.7 M584.1,202 L568.8,127.9 M953,248.7 L988.9,182 M1209.1,525.4 L1279.4,497.5 M1227.5,907.3 L1299.3,931.1 M992.9,1215.7 L1032.7,1280.1 M609.8,1302.3 L598.9,1377.2 M256.2,1119.9 L199.6,1170.2 M100.6,747.9 L24.9,750.2"/>
<path stroke-width="1.5" shape-rendering="auto" d="M531.3,525.6 L524.5,517 M581.8,491.4 L577.2,481.5 M701.1,461.7 L701.5,450.7 M763.6,468.3 L766.4,457.6 M877.2,523.9 L884.5,515.6 M922,570.3 L931,564 M974.6,689.2 L985.5,687.6 M979,755.4 L990,756.4 M941.8,883.6 L951.2,889.4 M901.6,938.6 L909.4,946.4 M787.7,1014.7 L791.1,1025.2 M719.8,1031.3 L720.8,1042.3 M580.1,1015.9 L576.1,1026.1 M515.9,984.2 L509.6,993.2 M416.4,880 L406.8,885.2 M387,812.7 L376.4,815.6 M377.7,665.4 L366.9,663.2 M398.9,593.3 L388.9,588.6 M488.7,471.7 L481.8,463.1 M552.8,429.2 L548.1,419.2 M703.1,393 L703.4,382 M781.3,401.9 L784.2,391.3 M922.8,472.5 L930.1,464.3 M978.2,530.9 L987.2,524.6 M1042.5,679.2 L1053.4,677.6 M1047.5,761.4 L1058.4,762.3 M1000.3,919.7 L1009.7,925.4 M950.2,987.1 L958,994.9 M809.3,1079.9 L812.8,1090.4 M725.8,1099.8 L726.8,1110.7 M554.8,1079.8 L550.7,1090 M476.5,1040.5 L470.2,1049.5 M356,912.6 L346.3,917.8 M320.6,830.5 L310,833.4 M310.4,651.5 L299.6,649.3 M336.6,564.3 L326.7,559.6 M446,417.8 L439.2,409.2 M523.7,366.9 L519.1,357 M705.1,324.4 L705.4,313.4 M799.1,335.5 L801.9,324.9 M968.5,421.2 L975.8,413 M1034.5,491.5 L1043.5,485.2 M1110.5,669.3 L1121.4,667.7 M1115.9,767.3 L1126.9,768.3 M1058.8,955.7 L1068.1,961.5 M998.8,1035.7 L1006.6,1043.5 M830.9,1145.1 L834.4,1155.6 M731.8,1168.2 L732.8,1179.2 M529.4,1143.6 L525.4,1153.9 M437.1,1096.8 L430.8,1105.8 M295.5,945.2 L285.8,950.4 M254.3,848.3 L243.6,851.2 M243.1,637.7 L232.3,635.5 M274.4,535.3 L264.4,530.6 M403.4,364 L396.6,355.3 M494.7,304.7 L490,294.7 M707.1,255.7 L707.4,244.7 M816.9,269.2 L819.7,258.5 M1014.1,369.8 L1021.5,361.6 M1090.8,452.1 L1099.8,445.8 M1178.5,659.3 L1189.4,657.7 M1184.4,773.3 L1195.3,774.2 M1117.3,991.8 L1126.6,997.5 M1047.4,1084.3 L1055.2,1092 M852.6,1210.3 L856,1220.8 M737.8,1236.6 L738.8,1247.6 M504.1,1207.5 L500,1217.7 M397.7,1153.1 L391.4,1162.1 M235.1,977.8 L225.4,983.1 M187.9,866.1 L177.3,869 M175.8,623.8 L165.1,621.6 M212.1,506.2 L202.1,501.6 M360.8,310.1 L353.9,301.5 M465.6,242.4 L461,232.4 M709,187 L709.4,176 M834.6,202.8 L837.5,192.2 M1059.8,318.5 L1067.1,310.3 M1147,412.7 L1156,406.3 M1246.5,649.3 L1257.3,647.7 M1252.8,779.3 L1263.8,780.2 M1175.8,1027.8 L1185.1,1033.6 M1096,1132.8 L1103.8,1140.6 M874.2,1275.5 L877.7,1286 M743.9,1305.1 L744.8,1316 M478.7,1271.3 L474.7,1281.6 M358.3,1209.3 L352,1218.4 M174.6,1010.5 L164.9,1015.7 M121.6,883.9 L110.9,886.8 M108.5,609.9 L97.8,607.7 M149.8,477.2 L139.8,472.6 M220.9,357.1 L212.2,350.3 M318.1,256.2 L311.3,247.6 M436.6,180.2 L431.9,170.2"/>
</g>
<circle cx="406.8" cy="874" r="14.5" fill="#b0b0b0"/>
<circle cx="302.5" cy="666.3" r="14.5" fill="#b0b0b0"/>
<circle cx="360.1" cy="396.9" r="14.5" fill="#b0b0b0"/>
<circle cx="586.9" cy="194.2" r="14.5" fill="#b0b0b0"/>
<circle cx="877.4" cy="517" r="14.0" fill="none" stroke="#b0b0b0" stroke-width="1.6"/>
<circle cx="1037.1" cy="634" r="14.0" fill="none" stroke="#b0b0b0" stroke-width="1.6"/>
<circle cx="1104.1" cy="864.8" r="14.0" fill="none" stroke="#b0b0b0" stroke-width="1.6"/>
<circle cx="1006" cy="1130" r="14.0" fill="none" stroke="#b0b0b0" stroke-width="1.6"/>
<circle cx="738" cy="1311.2" r="14.0" fill="none" stroke="#b0b0b0" stroke-width="1.6"/>
<g fill="none" stroke="#000" stroke-width="1" shape-rendering="crispEdges">
<polyline points="520.2,528.2 527.1,522 534.2,516 541.6,510.2 549.2,504.8 556.9,499.5 564.9,494.6 573,489.9 581.4,485.5 589.8,481.4 598.5,477.6 607.2,474 616.1,470.8 625.1,467.9 634.3,465.3 643.5,463 652.8,461.1 662.2,459.4 671.6,458.1 681.1,457.2 690.7,456.5 700.2,456.2 709.8,456.2 719.4,456.6 729,457.3 738.6,458.3 748.1,459.7 757.6,461.4 767.1,463.4 776.5,465.8 785.8,468.5 795,471.5 804.1,474.9 813.2,478.6 822.1,482.6 830.8,486.9 839.4,491.5 847.9,496.4 856.2,501.6 864.3,507.2 872.3,513 880,519 887.5,525.4 894.8,532 901.9,538.9 908.8,546.1 915.4,553.5 921.7,561.1 927.8,569 933.6,577 939.2,585.3 944.4,593.8 949.4,602.5 954,611.3 958.4,620.3 962.4,629.5 966.1,638.8 969.5,648.3 972.6,657.9 975.3,667.6 977.7,677.4 979.8,687.3 981.5,697.3 982.9,707.3 983.9,717.4 984.6,727.6 984.9,737.8 984.8,747.9 984.4,758.1 983.6,768.3 982.5,778.5 981,788.6 979.2,798.7 977,808.8 974.5,818.7 971.6,828.6 968.4,838.4 964.8,848.1 960.8,857.6 956.6,867.1 952,876.4 947.1,885.5 941.8,894.5 936.3,903.3 930.4,911.9 924.2,920.3 917.7,928.5 911,936.4 903.9,944.2 896.6,951.7 889,958.9 881.1,965.9 873,972.6 864.7,979 856.1,985.2 847.3,991 838.3,996.6 829.1,1001.8 819.7,1006.7 810.2,1011.3 800.4,1015.6 790.5,1019.5 780.5,1023.1 770.3,1026.3 760,1029.2 749.6,1031.7 739.1,1033.9 728.6,1035.7 717.9,1037.1 707.2,1038.1 696.5,1038.8 685.7,1039.1 674.9,1039.1 664.1,1038.6 653.4,1037.8 642.6,1036.6 631.9,1035 621.2,1033 610.6,1030.7 600,1028 589.6,1024.9 579.2,1021.4 569,1017.6 558.9,1013.5 548.9,1008.9 539.1,1004 529.4,998.8 520,993.3 510.7,987.4 501.6,981.1 492.7,974.6 484.1,967.7 475.7,960.5 467.5,953.1 459.6,945.3 451.9,937.3 444.6,928.9 437.5,920.4 430.7,911.5 424.2,902.5 418.1,893.2 412.2,883.6 406.7,873.9 401.5,864 396.7,853.8 392.2,843.6 388.1,833.1 384.3,822.5 380.9,811.7 377.9,800.9 375.3,789.9 373,778.8 371.2,767.6 369.7,756.4 368.6,745.1 367.9,733.8 367.6,722.4 367.7,711 368.2,699.6 369.1,688.2 370.4,676.9 372.1,665.6 374.2,654.3 376.7,643.1 379.5,632 382.8,621 386.5,610.1 390.5,599.3 394.9,588.6 399.7,578.1 404.9,567.8 410.4,557.6 416.3,547.6 422.6,537.8 429.1,528.3 436.1,518.9 443.3,509.8 450.9,501 458.8,492.4 467,484 475.5,476 484.2,468.3 493.3,460.8 502.6,453.7 512.2,446.9 522,440.4 532,434.2 542.3,428.4 552.8,423 563.5,417.9 574.3,413.2 585.3,408.9 596.5,405 607.8,401.4 619.3,398.3 630.9,395.5 642.5,393.1 654.3,391.2 666.1,389.7 678,388.5 690,387.8 701.9,387.5 713.9,387.7 725.9,388.2 737.9,389.2 749.8,390.6 761.7,392.4 773.6,394.6 785.4,397.2 797.1,400.3 808.6,403.7 820.1,407.6 831.5,411.9 842.7,416.5 853.7,421.6 864.6,427 875.3,432.9 885.7,439.1 896,445.7 906.1,452.6 915.9,459.9 925.4,467.5 934.7,475.5 943.8,483.8 952.5,492.5 960.9,501.4 969.1,510.6 976.9,520.2 984.4,530 991.5,540 998.3,550.4 1004.7,560.9 1010.8,571.7 1016.5,582.7 1021.8,594 1026.7,605.4 1031.3,617 1035.4,628.7 1039.1,640.6 1042.4,652.7 1045.3,664.8 1047.7,677.1 1049.8,689.4 1051.4,701.9 1052.5,714.4 1053.2,726.9 1053.5,739.5 1053.4,752.1 1052.8,764.6 1051.8,777.2 1050.3,789.7 1048.4,802.2 1046,814.7 1043.2,827 1040,839.3 1036.4,851.5 1032.3,863.5 1027.8,875.4 1022.9,887.1 1017.6,898.7 1011.8,910.1 1005.7,921.3 999.2,932.3 992.2,943.1 984.9,953.6 977.3,963.9 969.2,973.9 960.9,983.6 952.1,993.1 943.1,1002.3 933.7,1011.1 924,1019.6 914,1027.8 903.7,1035.6 893.1,1043.1 882.3,1050.2 871.2,1056.9 859.9,1063.3 848.3,1069.2 836.5,1074.8 824.6,1079.9 812.4,1084.6 800.1,1088.9 787.6,1092.8 775,1096.3 762.2,1099.3 749.4,1101.8 736.4,1103.9 723.4,1105.6 710.3,1106.8 697.2,1107.5 684,1107.8 670.8,1107.6 657.6,1107 644.5,1105.9 631.3,1104.3 618.3,1102.3 605.2,1099.8 592.3,1096.9 579.5,1093.5 566.7,1089.7 554.1,1085.4 541.7,1080.7 529.4,1075.5 517.3,1069.9 505.3,1063.9 493.6,1057.4 482.1,1050.6 470.9,1043.3 459.9,1035.7 449.1,1027.6 438.6,1019.2 428.4,1010.4 418.6,1001.3 409,991.8 399.8,981.9 390.9,971.8 382.3,961.3 374.1,950.5 366.3,939.5 358.9,928.1 351.9,916.5 345.3,904.6 339.1,892.5 333.3,880.2 327.9,867.7 323,855 318.5,842.1 314.5,829 310.9,815.8 307.8,802.5 305.1,789 302.9,775.5 301.2,761.9 300,748.2 299.2,734.4 298.9,720.7 299.1,706.9 299.8,693.1 301,679.4 302.6,665.6 304.8,652 307.4,638.3 310.4,624.8 314,611.4 318,598.1 322.5,585 327.5,572 332.9,559.1 338.7,546.5 345.1,534 351.8,521.8 359,509.8 366.6,498 374.6,486.5 383,475.3 391.8,464.4 401,453.7 410.6,443.4 420.5,433.5 430.8,423.8 441.4,414.5 452.4,405.6 463.6,397.1 475.2,389 487.1,381.2 499.2,373.9 511.6,367 524.2,360.5 537.1,354.5 550.2,348.9 563.5,343.8 576.9,339.1 590.6,334.9 604.3,331.2 618.3,328 632.3,325.2 646.4,323 660.7,321.2 674.9,319.9 689.3,319.1 703.6,318.9 718,319.1 732.4,319.8 746.8,321 761.1,322.8 775.4,325 789.5,327.8 803.6,331 817.6,334.7 831.5,338.9 845.2,343.6 858.8,348.8 872.2,354.5 885.3,360.6 898.3,367.2 911.1,374.2 923.6,381.7 935.8,389.7 947.8,398 959.5,406.8 970.9,416 982,425.6 992.7,435.6 1003.1,446 1013.1,456.7 1022.8,467.8 1032.1,479.2 1040.9,491 1049.4,503.1 1057.5,515.4 1065.1,528.1 1072.3,541 1079,554.2 1085.3,567.6 1091.1,581.2 1096.4,595.1 1101.2,609.1 1105.6,623.3 1109.5,637.7 1112.8,652.2 1115.7,666.8 1118,681.6 1119.8,696.4 1121.2,711.3 1121.9,726.2 1122.2,741.2 1122,756.2 1121.2,771.1 1119.9,786.1 1118.1,801 1115.7,815.9 1112.9,830.6 1109.5,845.3 1105.6,859.9 1101.2,874.3 1096.3,888.6 1090.8,902.7 1084.9,916.6 1078.5,930.4 1071.7,943.9 1064.3,957.1 1056.5,970.2 1048.2,982.9 1039.5,995.4 1030.3,1007.5 1020.8,1019.4 1010.7,1030.9 1000.3,1042 989.5,1052.8 978.4,1063.3 966.8,1073.3 954.9,1083 942.7,1092.2 930.1,1101 917.2,1109.3 904,1117.3 890.6,1124.7 876.9,1131.7 862.9,1138.2 848.7,1144.2 834.3,1149.8 819.7,1154.8 804.9,1159.3 789.9,1163.3 774.8,1166.8 759.6,1169.7 744.3,1172.2 728.9,1174.1 713.4,1175.4 697.9,1176.2 682.3,1176.5 666.7,1176.2 651.1,1175.4 635.6,1174 620.1,1172.1 604.6,1169.7 589.3,1166.7 574,1163.1 558.9,1159.1 543.9,1154.5 529,1149.3 514.4,1143.7 499.9,1137.5 485.6,1130.9 471.6,1123.7 457.8,1116.1 444.3,1107.9 431,1099.3 418.1,1090.2 405.5,1080.7 393.2,1070.7 381.2,1060.3 369.6,1049.5 358.4,1038.3 347.6,1026.6 337.2,1014.6 327.2,1002.2 317.6,989.5 308.4,976.4 299.8,963.1 291.6,949.4 283.8,935.4 276.6,921.1 269.8,906.6 263.6,891.8 257.9,876.9 252.6,861.7 248,846.3 243.8,830.8 240.2,815.1 237.2,799.3 234.7,783.4 232.7,767.4 231.3,751.3 230.5,735.1 230.2,719 230.5,702.8 231.4,686.6 232.9,670.5 234.9,654.4 237.4,638.3 240.5,622.4 244.2,606.6 248.5,590.8 253.2,575.3 258.6,559.9 264.4,544.6 270.8,529.6 277.8,514.8 285.2,500.3 293.2,486 301.6,471.9 310.6,458.2 320,444.8 329.9,431.7 340.3,418.9 351.1,406.5 362.4,394.5 374,382.9 386.1,371.6 398.6,360.8 411.4,350.5 424.6,340.5 438.2,331.1 452.1,322.1 466.3,313.6 480.8,305.6 495.7,298.1 510.7,291.1 526,284.6 541.6,278.7 557.3,273.3 573.3,268.4 589.4,264.2 605.7,260.4 622.1,257.3 638.6,254.7 655.2,252.7 671.9,251.3 688.6,250.4 705.4,250.2 722.1,250.5 738.9,251.4 755.6,252.9 772.3,255 789,257.7 805.5,260.9 821.9,264.8 838.2,269.2 854.3,274.1 870.3,279.7 886.1,285.8 901.7,292.4 917,299.6 932.1,307.4 946.9,315.6 961.4,324.4 975.7,333.7 989.6,343.5 1003.1,353.8 1016.4,364.5 1029.2,375.7 1041.6,387.4 1053.7,399.5 1065.3,412 1076.5,425 1087.2,438.3 1097.5,452 1107.3,466.1 1116.6,480.5 1125.4,495.2 1133.7,510.3 1141.5,525.6 1148.7,541.2 1155.4,557.1 1161.5,573.2 1167.1,589.5 1172.1,606 1176.5,622.7 1180.3,639.6 1183.6,656.6 1186.3,673.7 1188.3,690.9 1189.8,708.2 1190.6,725.5 1190.9,742.9 1190.5,760.3 1189.6,777.6 1188,795 1185.8,812.3 1183.1,829.5 1179.7,846.6 1175.7,863.6 1171.1,880.4 1166,897.2 1160.2,913.7 1153.9,930 1147,946.1 1139.5,962 1131.5,977.6 1122.9,993 1113.8,1008 1104.2,1022.7 1094.1,1037.1 1083.4,1051.2 1072.3,1064.8 1060.6,1078.1 1048.6,1091 1036,1103.4 1023,1115.5 1009.6,1127 995.8,1138.1 981.6,1148.7 967.1,1158.9 952.2,1168.5 936.9,1177.6 921.3,1186.2 905.4,1194.2 889.3,1201.6 872.8,1208.6 856.2,1214.9 839.3,1220.6 822.2,1225.8 804.9,1230.4 787.5,1234.3 769.9,1237.7 752.2,1240.4 734.4,1242.5 716.5,1244 698.6,1244.9 680.6,1245.2 662.6,1244.8 644.6,1243.8 626.7,1242.1 608.8,1239.9 591,1237 573.3,1233.5 555.7,1229.4 538.3,1224.6 521,1219.3 503.9,1213.3 487.1,1206.7 470.4,1199.6 454,1191.9 437.8,1183.6 422,1174.7 406.4,1165.3 391.2,1155.3 376.3,1144.8 361.8,1133.8 347.7,1122.2 334,1110.2 320.7,1097.7 307.8,1084.7 295.4,1071.3 283.5,1057.5 272,1043.2 261,1028.5 250.6,1013.4 240.6,998 231.2,982.2 222.4,966.1 214.1,949.7 206.4,933 199.3,916 192.7,898.7 186.8,881.3 181.5,863.6 176.8,845.7 172.7,827.7 169.2,809.5 166.4,791.2 164.2,772.8 162.7,754.4 161.8,735.8 161.6,717.3 162,698.7 163,680.1 164.7,661.6 167.1,643.1 170.1,624.7 173.7,606.4 178,588.3 182.9,570.3 188.4,552.4 194.6,534.8 201.4,517.3 208.8,500.1 216.8,483.2 225.4,466.5 234.6,450.1 244.3,434.1 254.6,418.4 265.5,403 276.9,388 288.8,373.5 301.2,359.3 314.1,345.6 327.5,332.3 341.4,319.5 355.7,307.1 370.5,295.3 385.7,284 401.2,273.2 417.2,262.9 433.5,253.2 450.1,244.1 467.1,235.6 484.3,227.6 501.9,220.3 519.7,213.6 537.7,207.4 556,202 574.4,197.1 593,192.9 611.8,189.4 630.7,186.5 649.7,184.2 668.8,182.6 687.9,181.7 707.1,181.5 726.2,181.9 745.4,183 764.5,184.8 783.6,187.2 802.6,190.3 821.4,194.1 840.2,198.5 858.8,203.6 877.2,209.4 895.4,215.7 913.4,222.7 931.2,230.4 948.6,238.6 965.8,247.5 982.7,257 999.3,267.1 1015.5,277.7 1031.3,288.9 1046.8,300.7 1061.8,313 1076.4,325.8 1090.6,339.2 1104.3,353 1117.5,367.3 1130.2,382.1 1142.4,397.4 1154.1,413 1165.2,429.1 1175.8,445.5 1185.7,462.4 1195.1,479.5 1203.9,497 1212.1,514.9 1219.7,533 1226.6,551.3 1232.9,569.9 1238.6,588.8 1243.6,607.8 1247.9,627 1251.5,646.3 1254.5,665.8 1256.8,685.4 1258.4,705.1 1259.3,724.8 1259.6,744.6 1259.1,764.4 1258,784.1 1256.1,803.8 1253.6,823.5 1250.4,843.1 1246.5,862.5 1241.9,881.9 1236.7,901 1230.7,920 1224.2,938.8 1216.9,957.3 1209,975.6 1200.5,993.6 1191.3,1011.4 1181.6,1028.8 1171.2,1045.8 1160.2,1062.5 1148.6,1078.9 1136.5,1094.8 1123.8,1110.3 1110.5,1125.3 1096.8,1139.9 1082.5,1154 1067.7,1167.6 1052.5,1180.7 1036.8,1193.3 1020.6,1205.3 1004.1,1216.8 987.1,1227.6 969.8,1237.9 952.1,1247.6 934,1256.7 915.6,1265.1 897,1272.9 878.1,1280 858.9,1286.5 839.5,1292.3 819.9,1297.4 800.1,1301.9 780.1,1305.6 760,1308.7 739.8,1311 719.6,1312.7 699.2,1313.6 678.9,1313.8 658.5,1313.4 638.1,1312.2 617.8,1310.3 597.6,1307.6 577.4,1304.3 557.4,1300.3 537.5,1295.6 517.7,1290.2 498.2,1284 478.8,1277.2 459.7,1269.8 440.9,1261.6 422.3,1252.8 404.1,1243.4 386.2,1233.3 368.6,1222.6 351.4,1211.3 334.6,1199.4 318.2,1186.8 302.3,1173.8 286.8,1160.1 271.7,1145.9 257.2,1131.2 243.2,1116 229.7,1100.3 216.8,1084.1 204.4,1067.5 192.7,1050.4 181.5,1032.9 170.9,1015.1 160.9,996.8 151.6,978.2 143,959.3 134.9,940.1 127.6,920.6 121,900.9 115,880.9 109.7,860.7 105.2,840.3 101.3,819.8 98.2,799.1 95.8,778.3 94.1,757.4 93.1,736.5 92.9,715.6 93.4,694.6 94.6,673.6 96.6,652.7 99.3,631.9 102.7,611.1 106.9,590.5 111.8,570 117.4,549.7 123.7,529.6 130.7,509.7 138.4,490 146.7,470.6 155.8,451.5 165.5,432.8 175.9,414.3 187,396.2 198.6,378.5 210.9,361.3 223.8,344.4 237.3,328 251.3,312.1 265.9,296.6 281.1,281.7 296.7,267.3 312.9,253.4 329.6,240.1 346.7,227.4 364.2,215.3 382.2,203.8 400.6,192.9 419.4,182.7 438.5,173.1 458,164.2 477.7,156 497.8,148.4 518.1,141.6 538.7,135.5 545.6,133.6"/>
<path d="M520.2,528.2 L503.2,508.4 M570.3,491.4 L554.5,460.7 M628.2,467 L618.1,426.3 M754.5,460.8 L765.4,412.6 M816.1,479.9 L839.3,432.5 M872.3,513 L908.8,468.5 M919.6,558.5 L965.4,523.7 M955.5,614.3 L1003.6,593 M977.7,677.4 L1027.1,668.2 M984.9,744.5 L1032.3,746.8 M976.2,812.1 L1018.8,824.4 M952,876.4 L989.7,897.6 M913.2,933.8 L940.8,959.3 M861.9,981.1 L878.2,1005.4 M800.4,1015.6 L809.2,1038.9 M732.1,1035.1 L734.6,1054.5 M660.5,1038.4 L658.5,1057.8 M589.6,1024.9 L583.4,1042.5 M523.1,995.1 L513,1010.9 M464.8,950.5 L451.4,963.5 M418.1,893.2 L402.2,902.5 M385.5,826 L367,831.8 M369.3,752.6 L348.5,754.1 M370.4,676.9 L346,672.8 M389.1,602.8 L364.5,592.5 M424.7,534.6 L403.1,518.9 M475.5,476 L452.7,449.4 M538.9,430.3 L522.3,398.1 M611.6,400.3 L601.9,361 M769.6,393.8 L780.1,347.6 M846.4,418.2 L867.2,375.6 M915.9,459.9 L942.7,427.3 M974.3,517 L1004.6,494 M1018.3,586.5 L1052.8,571.2 M1045.3,664.8 L1081.6,658 M1053.5,747.9 L1089.6,749.6 M1042.2,831.1 L1075.8,840.8 M1011.8,910.1 L1041,926.6 M963.7,980.4 L985.7,1000.8 M900.2,1038.1 L915.8,1061.4 M824.6,1079.9 L833.9,1104.7 M740.8,1103.3 L743,1121.1 M653.2,1106.7 L651.3,1124.6 M566.7,1089.7 L561.2,1105.4 M485.9,1052.9 L476.5,1067.6 M415.3,998.2 L400.1,1012.9 M358.9,928.1 L336.3,941.5 M319.9,846.4 L290.3,855.6 M300.7,757.3 L265.4,759.7 M302.6,665.6 L267.7,659.8 M325.8,576.3 L289.3,561 M369.2,494.1 L335.8,469.8 M430.8,423.8 L403.1,391.5 M507.4,369.3 L486,327.7 M595.1,333.6 L583.9,288.2 M689.3,319.1 L688.9,276.4 M784.8,326.8 L793.5,288.5 M876.6,356.5 L892.3,324.4 M959.5,406.8 L978.2,384.1 M1029,475.4 L1050.7,458.9 M1081.1,558.6 L1102.6,549.1 M1112.8,652.2 L1135.7,647.9 M1122.1,751.2 L1150.1,752.5 M1108.2,850.2 L1142.6,860.1 M1071.7,943.9 L1106.5,963.5 M1014.1,1027.1 L1044.6,1055.3 M938.5,1095.2 L961.7,1129.6 M848.7,1144.2 L862.9,1182.2 M749.4,1171.4 L754.5,1211.6 M646,1175 L641.9,1213.2 M543.9,1154.5 L531.6,1189.4 M448.8,1110.7 L429.1,1141.2 M365.8,1045.8 L345.3,1065.6 M299.8,963.1 L276.9,976.6 M254.3,866.8 L232.4,873.6 M232.2,762 L209.2,763.6 M234.9,654.4 L215.7,651.2 M262.4,549.7 L244.5,542.2 M313.7,453.7 L298.6,442.7 M386.1,371.6 L373.3,356.7 M476,308.2 L467,290.7 M578.6,267 L574.4,250 M800,259.8 L803.2,245.6 M906.8,294.8 L913,282.2 M1003.1,353.8 L1012,342.9 M1083.7,433.8 L1099.2,422 M1143.9,530.8 L1163,522.3 M1180.3,639.6 L1203.2,635.3 M1190.7,754.5 L1217.7,755.8 M1174.2,869.2 L1202.1,877.3 M1131.5,977.6 L1157.6,992.4 M1064.6,1073.7 L1086.6,1094.1 M976.8,1152.2 L993.6,1177.1 M872.8,1208.6 L882.5,1234.2 M758.1,1239.6 L761.8,1268.7 M638.7,1243.3 L635.5,1272.5 M521,1219.3 L512,1244.9 M411.6,1168.5 L398.6,1188.7 M316.3,1093.4 L299.1,1110.1 M240.6,998 L220.4,1009.9 M188.7,887.1 L167.2,893.8 M163.7,766.7 L142.1,768.2 M167.1,643.1 L146.9,639.8 M199.1,523.1 L180.6,515.4 M258.2,413.2 L244.3,403.1 M341.4,319.5 L331.5,307.9 M444.5,247.1 L437.5,233.5 M562.1,200.3 L558.3,184.7 M815.2,192.8 L818.2,179.3 M937,233.1 L942.4,222 M1046.8,300.7 L1058.4,286.6 M1138.4,392.2 L1154.6,379.9 M1206.7,502.9 L1227.8,493.6 M1247.9,627 L1274.4,622 M1259.3,757.8 L1292.3,759.4 M1240.2,888.3 L1272,897.4 M1191.3,1011.4 L1222.3,1028.8 M1115,1120.4 L1141.1,1144.5 M1015.2,1209.2 L1033.6,1236.6 M897,1272.9 L908,1302.2 M766.7,1307.7 L770.2,1335.3 M631.4,1311.6 L628.4,1339.1 M498.2,1284 L489.5,1308.6 M374.4,1226.2 L360.7,1247.5 M266.9,1141.1 L251.4,1156 M181.5,1032.9 L165.5,1042.3 M123.1,907.5 L105.9,912.8 M95.1,771.4 L78.7,772.5 M99.3,631.9 L84,629.3 M135.7,496.5 L125.1,492.1 M202.7,372.7 L194.6,366.8 M296.7,267.3 L289.6,258.9 M413.1,186 L408.1,176.2 M545.6,133.6 L543.1,123.4"/>
<path stroke-width="3" transform="translate(-0.6,0)" d="M690.7,456.5 L690.2,408.5 M690,387.8 L689.5,343.3 M688.6,250.4 L688.4,233.4 M687.9,181.7 L687.7,165.7"/>
</g>
<g font-family="'Liberation Sans', 'DejaVu Sans', sans-serif" font-size="17" fill="#000" text-anchor="middle">
<text transform="translate(675.3,478.1) rotate(355.9)" textLength="63" lengthAdjust="spacing" stroke="#fff" stroke-width="0.22">01-Dec</text>
<text transform="translate(845.9,519.1) rotate(35.8)" textLength="63" lengthAdjust="spacing" stroke="#fff" stroke-width="0.22">04-Dec</text>
<text transform="translate(953.5,664.5) rotate(75.8)" textLength="63" lengthAdjust="spacing" stroke="#fff" stroke-width="0.22">07-Dec</text>
<text transform="translate(950.1,857) rotate(296.2)" textLength="63" lengthAdjust="spacing" stroke="#fff" stroke-width="0.22">10-Dec</text>
<text transform="translate(813.8,997.5) rotate(335.7)" textLength="63" lengthAdjust="spacing" stroke="#fff" stroke-width="0.22">13-Dec</text>
<text transform="translate(611.4,1022.5) rotate(15.7)" textLength="63" lengthAdjust="spacing" stroke="#fff" stroke-width="0.22">16-Dec</text>
<text transform="translate(439.5,905.5) rotate(55.4)" textLength="63" lengthAdjust="spacing" stroke="#fff" stroke-width="0.22">19-Dec</text>
<text transform="translate(388.2,701.7) rotate(275.4)" textLength="63" lengthAdjust="spacing" stroke="#fff" stroke-width="0.22">22-Dec</text>
<text transform="translate(472.4,507.3) rotate(315.3)" textLength="63" lengthAdjust="spacing" stroke="#fff" stroke-width="0.22">25-Dec</text>
<text transform="translate(666.4,409.9) rotate(355.2)" textLength="63" lengthAdjust="spacing" stroke="#fff" stroke-width="0.22">28-Dec</text>
<text transform="translate(882.9,461) rotate(35.1)" textLength="63" lengthAdjust="spacing">31-Dec</text>
<text transform="translate(1019,643.5) rotate(75)" textLength="63" lengthAdjust="spacing">03-Jan</text>
<text transform="translate(1014,882.7) rotate(295.4)" textLength="63" lengthAdjust="spacing" stroke="#fff" stroke-width="0.22">06-Jan</text>
<text transform="translate(846.4,1058.2) rotate(335)" textLength="63" lengthAdjust="spacing" stroke="#fff" stroke-width="0.22">09-Jan</text>
<text transform="translate(597.7,1089.9) rotate(14.9)" textLength="63" lengthAdjust="spacing" stroke="#fff" stroke-width="0.22">12-Jan</text>
<text transform="translate(385.6,948.4) rotate(54.7)" textLength="63" lengthAdjust="spacing" stroke="#fff" stroke-width="0.22">15-Jan</text>
<text transform="translate(319.5,699.8) rotate(274.7)" textLength="63" lengthAdjust="spacing" stroke="#fff" stroke-width="0.22">18-Jan</text>
<text transform="translate(420.8,461.7) rotate(314.6)" textLength="63" lengthAdjust="spacing" stroke="#fff" stroke-width="0.22">21-Jan</text>
<text transform="translate(656.1,341.8) rotate(354.5)" textLength="63" lengthAdjust="spacing" stroke="#fff" stroke-width="0.22">24-Jan</text>
<text transform="translate(918.5,402.2) rotate(34.4)" textLength="63" lengthAdjust="spacing" stroke="#fff" stroke-width="0.22">27-Jan</text>
<text transform="translate(1084.1,621.1) rotate(74.4)" textLength="63" lengthAdjust="spacing" stroke="#fff" stroke-width="0.22">30-Jan</text>
<text transform="translate(1078.4,907.1) rotate(294.6)" textLength="63" lengthAdjust="spacing" stroke="#fff" stroke-width="0.22">02-Feb</text>
<text transform="translate(880.2,1118.1) rotate(334.3)" textLength="63" lengthAdjust="spacing" stroke="#fff" stroke-width="0.22">05-Feb</text>
<text transform="translate(585.5,1157.7) rotate(14.2)" textLength="63" lengthAdjust="spacing" stroke="#fff" stroke-width="0.22">08-Feb</text>
<text transform="translate(332.9,992.7) rotate(54)" textLength="63" lengthAdjust="spacing" stroke="#fff" stroke-width="0.22">11-Feb</text>
<text transform="translate(250.5,700.1) rotate(273.9)" textLength="63" lengthAdjust="spacing" stroke="#fff" stroke-width="0.22">14-Feb</text>
<text transform="translate(367.7,417.7) rotate(313.8)" textLength="63" lengthAdjust="spacing" stroke="#fff" stroke-width="0.22">17-Feb</text>
<text transform="translate(643.5,274.1) rotate(353.8)" textLength="63" lengthAdjust="spacing" stroke="#fff" stroke-width="0.22">20-Feb</text>
<text transform="translate(952.2,342) rotate(33.7)" textLength="63" lengthAdjust="spacing" stroke="#fff" stroke-width="0.22">23-Feb</text>
<text transform="translate(1148.5,596.5) rotate(73.6)" textLength="63" lengthAdjust="spacing" stroke="#fff" stroke-width="0.22">26-Feb</text>
<text transform="translate(1143.7,929.4) rotate(293.8)" textLength="63" lengthAdjust="spacing" stroke="#fff" stroke-width="0.22">01-Mar</text>
<text transform="translate(916,1177.1) rotate(333.5)" textLength="63" lengthAdjust="spacing" stroke="#fff" stroke-width="0.22">04-Mar</text>
<text transform="translate(575.2,1225.9) rotate(13.4)" textLength="63" lengthAdjust="spacing" stroke="#fff" stroke-width="0.22">07-Mar</text>
<text transform="translate(281.2,1038.4) rotate(53.2)" textLength="63" lengthAdjust="spacing" stroke="#fff" stroke-width="0.22">10-Mar</text>
<text transform="translate(181.6,701.9) rotate(273.2)" textLength="63" lengthAdjust="spacing" stroke="#fff" stroke-width="0.22">13-Mar</text>
<text transform="translate(313.7,374.9) rotate(313.1)" textLength="63" lengthAdjust="spacing" stroke="#fff" stroke-width="0.22">16-Mar</text>
<text transform="translate(629.5,206.5) rotate(353)" textLength="63" lengthAdjust="spacing" stroke="#fff" stroke-width="0.22">19-Mar</text>
<text transform="translate(984.8,281.2) rotate(33)" textLength="63" lengthAdjust="spacing" stroke="#fff" stroke-width="0.22">22-Mar</text>
<text transform="translate(1212.5,570.7) rotate(72.9)" textLength="63" lengthAdjust="spacing" stroke="#fff" stroke-width="0.22">25-Mar</text>
<text transform="translate(1209.4,950.6) rotate(293.1)" textLength="63" lengthAdjust="spacing" stroke="#fff" stroke-width="0.22">28-Mar</text>
<text transform="translate(952.9,1235.4) rotate(332.8)" textLength="63" lengthAdjust="spacing" stroke="#fff" stroke-width="0.22">31-Mar</text>
<text transform="translate(566,1294.3) rotate(12.7)" textLength="63" lengthAdjust="spacing" stroke="#fff" stroke-width="0.22">03-Apr</text>
<text transform="translate(230.2,1084.9) rotate(52.6)" textLength="63" lengthAdjust="spacing" stroke="#fff" stroke-width="0.22">06-Apr</text>
<text transform="translate(112.7,704.6) rotate(272.6)" textLength="63" lengthAdjust="spacing" stroke="#fff" stroke-width="0.22">09-Apr</text>
</g>
<circle cx="42.1" cy="28.4" r="15" fill="#b0b0b0"/>
<circle cx="42.1" cy="84.4" r="14.3" fill="none" stroke="#b0b0b0" stroke-width="1.5"/>
<g font-family="'Liberation Sans', 'DejaVu Sans', sans-serif" fill="#000" stroke="#fff" stroke-width="0.2">
<text x="70.5" y="28.5" font-size="16" textLength="81.5" lengthAdjust="spacing">New Moon</text>
<text x="70.5" y="84.5" font-size="16" textLength="76.5" lengthAdjust="spacing">Full Moon</text>
<text x="1394.5" y="38.5" font-size="16.5" text-anchor="end" textLength="128" lengthAdjust="spacing">Period: 27 days</text>
<text x="5" y="1395.5" font-size="16.5" textLength="108" lengthAdjust="spacing">GI-UAF 2026</text>
<text x="1395" y="1395.5" font-size="16.5" text-anchor="end" textLength="320" lengthAdjust="spacing">Condegram plotted Apr 15 at 21:02 UT</text>
<text x="714" y="49.2" font-size="14.5" stroke="#000" stroke-width="0.35" text-anchor="middle" textLength="27.5" lengthAdjust="spacing">250</text>
<text x="714" y="72.1" font-size="14.5" stroke="#000" stroke-width="0.35" text-anchor="middle" textLength="27.5" lengthAdjust="spacing">190</text>
<text x="714" y="95" font-size="14.5" stroke="#000" stroke-width="0.35" text-anchor="middle" textLength="27.5" lengthAdjust="spacing">130</text>
<g stroke="#000" fill="none" shape-rendering="crispEdges"><path d="M688 573.5 V642.5" stroke-width="2"/><path d="M671 573.5 H707 M671 642.5 H707" stroke-width="1"/></g>
<text x="718" y="579.5" font-size="19.5" textLength="77" lengthAdjust="spacing">250 sfu</text>
<text x="718" y="648" font-size="19.5" textLength="64" lengthAdjust="spacing">70 sfu</text>
</g>
<g fill="#ff3030">
<text x="695" y="727.5" font-family="'Liberation Serif', 'DejaVu Serif', serif" font-style="italic" font-size="35" stroke="#ff3030" stroke-width="0.5" text-anchor="middle" textLength="273" lengthAdjust="spacingAndGlyphs">10.7 cm Solar</text>
<text x="693" y="758.5" font-family="'Liberation Serif', 'DejaVu Serif', serif" font-style="italic" font-size="35" stroke="#ff3030" stroke-width="0.5" text-anchor="middle" textLength="214" lengthAdjust="spacingAndGlyphs">Radio Flux</text>
<text x="692.5" y="804" font-family="'Liberation Sans', 'DejaVu Sans', sans-serif" font-size="33.5" text-anchor="middle" textLength="112.5" lengthAdjust="spacing">70 sfu</text>
<text x="693" y="885.5" font-family="'Liberation Sans', 'DejaVu Sans', sans-serif" font-size="29.5" text-anchor="middle" textLength="248" lengthAdjust="spacing">Latest: 20:00 UT</text>
<text x="693" y="911.5" font-family="'Liberation Sans', 'DejaVu Sans', sans-serif" font-size="29.5" text-anchor="middle" textLength="206" lengthAdjust="spacing">2026-Apr-14</text>
</g>
</svg>
</body>
</html>
